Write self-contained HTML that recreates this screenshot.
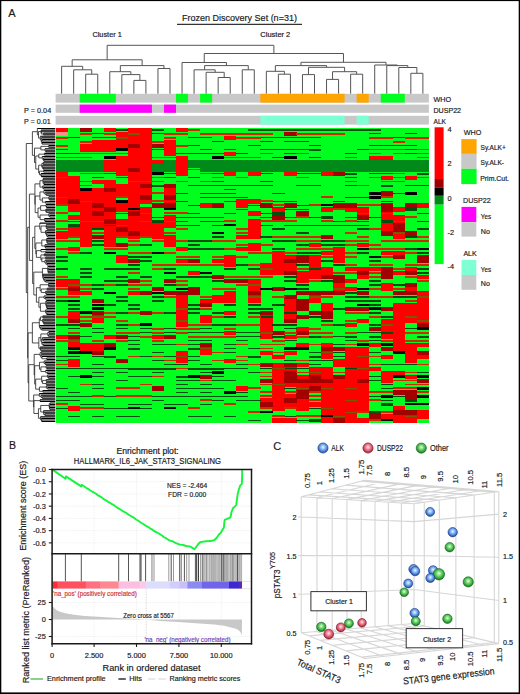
<!DOCTYPE html>
<html><head><meta charset="utf-8"><title>Figure</title>
<style>html,body{margin:0;padding:0;background:#fff;} body{width:520px;height:694px;overflow:hidden;font-family:"Liberation Sans", sans-serif;} svg{display:block;}</style>
</head><body><svg width="520" height="694" viewBox="0 0 520 694" font-family='"Liberation Sans", sans-serif'><rect x="0.00" y="0.00" width="1.30" height="694.00" fill="#000"/>
<rect x="0.00" y="0.00" width="520.00" height="1.10" fill="#000"/>
<rect x="518.70" y="0.00" width="1.30" height="694.00" fill="#000"/>
<rect x="0.00" y="692.40" width="520.00" height="1.60" fill="#000"/>
<text x="8.20" y="16.70" font-size="11" fill="#1a1a1a" stroke="#1a1a1a" stroke-width="0.18">A</text>
<text x="182.10" y="21.40" font-size="9.5" textLength="114.80" lengthAdjust="spacingAndGlyphs" fill="#1a1a1a" stroke="#1a1a1a" stroke-width="0.18">Frozen Discovery Set (n=31)</text>
<line x1="177.00" y1="24.40" x2="302.00" y2="24.40" stroke="#333" stroke-width="1.1"/>
<text x="92.40" y="37.10" font-size="7.3" textLength="29.40" lengthAdjust="spacingAndGlyphs" fill="#1a1a1a" stroke="#1a1a1a" stroke-width="0.18">Cluster 1</text>
<text x="260.30" y="37.10" font-size="7.3" textLength="30.00" lengthAdjust="spacingAndGlyphs" fill="#1a1a1a" stroke="#1a1a1a" stroke-width="0.18">Cluster 2</text>
<path d="M85.70 93.80V74.20M97.75 93.80V74.20M85.70 74.20H97.75M73.66 93.80V69.80M91.73 74.20V69.80M73.66 69.80H91.73M61.62 93.80V66.30M82.69 69.80V66.30M61.62 66.30H82.69M133.87 93.80V80.40M145.91 93.80V80.40M133.87 80.40H145.91M121.83 93.80V74.60M139.89 80.40V74.60M121.83 74.60H139.89M109.79 93.80V71.70M130.86 74.60V71.70M109.79 71.70H130.86M157.96 93.80V68.50M170.00 93.80V68.50M157.96 68.50H170.00M120.33 71.70V65.60M163.98 68.50V65.60M120.33 65.60H163.98M72.16 66.30V59.80M142.15 65.60V59.80M72.16 59.80H142.15M218.17 93.80V77.50M230.21 93.80V77.50M218.17 77.50H230.21M206.12 93.80V72.30M224.19 77.50V72.30M206.12 72.30H224.19M194.08 93.80V69.80M215.16 72.30V69.80M194.08 69.80H215.16M242.25 93.80V69.80M254.29 93.80V69.80M242.25 69.80H254.29M204.62 69.80V65.60M248.27 69.80V65.60M204.62 65.60H248.27M182.04 93.80V62.50M226.44 65.60V62.50M182.04 62.50H226.44M278.38 93.80V74.20M290.42 93.80V74.20M278.38 74.20H290.42M266.33 93.80V71.30M284.40 74.20V71.30M266.33 71.30H284.40M302.46 93.80V74.60M314.50 93.80V74.60M302.46 74.60H314.50M326.54 93.80V79.40M338.59 93.80V79.40M326.54 79.40H338.59M350.63 93.80V74.20M362.67 93.80V74.20M350.63 74.20H362.67M332.56 79.40V71.70M356.65 74.20V71.70M332.56 71.70H356.65M308.48 74.60V67.30M344.61 71.70V67.30M308.48 67.30H344.61M275.37 71.30V65.60M326.54 67.30V65.60M275.37 65.60H326.54M410.84 93.80V73.30M422.88 93.80V73.30M410.84 73.30H422.88M398.80 93.80V67.50M416.86 73.30V67.50M398.80 67.50H416.86M386.75 93.80V65.60M407.83 67.50V65.60M386.75 65.60H407.83M374.71 93.80V65.00M397.29 65.60V65.00M374.71 65.00H397.29M300.95 65.60V62.30M386.00 65.00V62.30M300.95 62.30H386.00M204.24 62.50V53.50M343.48 62.30V53.50M204.24 53.50H343.48M107.15 59.80V45.30M273.86 53.50V45.30M107.15 45.30H273.86" stroke="#555" stroke-width="1" fill="none"/>
<rect x="55.60" y="93.80" width="373.30" height="8.80" fill="#c8c8c8"/>
<rect x="79.68" y="93.80" width="36.13" height="8.80" fill="#00ff1e"/>
<rect x="176.02" y="93.80" width="12.04" height="8.80" fill="#00ff1e"/>
<rect x="200.10" y="93.80" width="12.04" height="8.80" fill="#00ff1e"/>
<rect x="260.31" y="93.80" width="84.29" height="8.80" fill="#ffa500"/>
<rect x="356.65" y="93.80" width="12.04" height="8.80" fill="#ffa500"/>
<rect x="380.73" y="93.80" width="24.08" height="8.80" fill="#00ff1e"/>
<rect x="55.60" y="104.60" width="373.30" height="8.20" fill="#c8c8c8"/>
<rect x="79.68" y="104.60" width="72.25" height="8.20" fill="#ff00ff"/>
<rect x="163.98" y="104.60" width="12.04" height="8.20" fill="#ff00ff"/>
<rect x="55.60" y="115.80" width="373.30" height="8.80" fill="#c8c8c8"/>
<rect x="260.31" y="115.80" width="84.29" height="8.80" fill="#7fffd4"/>
<rect x="356.65" y="115.80" width="12.04" height="8.80" fill="#7fffd4"/>
<text x="433.50" y="101.90" font-size="7.4" textLength="17.70" lengthAdjust="spacingAndGlyphs" fill="#1a1a1a" stroke="#1a1a1a" stroke-width="0.18">WHO</text>
<text x="433.50" y="112.80" font-size="7.4" textLength="27.50" lengthAdjust="spacingAndGlyphs" fill="#1a1a1a" stroke="#1a1a1a" stroke-width="0.18">DUSP22</text>
<text x="433.50" y="123.80" font-size="7.4" textLength="12.50" lengthAdjust="spacingAndGlyphs" fill="#1a1a1a" stroke="#1a1a1a" stroke-width="0.18">ALK</text>
<text x="24.00" y="112.50" font-size="7.7" textLength="27.20" lengthAdjust="spacingAndGlyphs" fill="#1a1a1a" stroke="#1a1a1a" stroke-width="0.18">P = 0.04</text>
<text x="24.00" y="123.90" font-size="7.7" textLength="26.70" lengthAdjust="spacingAndGlyphs" fill="#1a1a1a" stroke="#1a1a1a" stroke-width="0.18">P = 0.01</text>
<g shape-rendering="crispEdges"><path fill="#00ff1e" d="M55.6 135.76h12.29v24.13h-12.29zM55.6 203.41h12.29v28.11h-12.29zM55.6 239.23h12.29v40.05h-12.29zM55.6 286.99h12.29v48.01h-12.29zM55.6 338.73h12.29v83.82h-12.29zM67.6 127.80h12.29v32.09h-12.29zM67.6 171.58h12.29v4.23h-12.29zM67.6 211.37h12.29v4.23h-12.29zM67.6 219.33h12.29v8.21h-12.29zM67.6 235.25h12.29v12.19h-12.29zM67.6 251.17h12.29v28.11h-12.29zM67.6 294.95h12.29v16.17h-12.29zM67.6 322.81h12.29v12.19h-12.29zM67.6 346.69h12.29v12.19h-12.29zM67.6 366.58h12.29v40.05h-12.29zM67.6 410.36h12.29v12.19h-12.29zM79.7 131.78h12.29v12.19h-12.29zM79.7 151.68h12.29v8.21h-12.29zM79.7 171.58h12.29v20.15h-12.29zM79.7 247.19h12.29v44.03h-12.29zM79.7 294.95h12.29v28.11h-12.29zM79.7 326.79h12.29v16.17h-12.29zM79.7 350.66h12.29v71.89h-12.29zM91.7 127.80h12.29v12.19h-12.29zM91.7 151.68h12.29v8.21h-12.29zM91.7 171.58h12.29v8.21h-12.29zM91.7 183.52h12.29v4.23h-12.29zM91.7 227.29h12.29v8.21h-12.29zM91.7 239.23h12.29v59.95h-12.29zM91.7 302.91h12.29v8.21h-12.29zM91.7 322.81h12.29v20.15h-12.29zM91.7 354.64h12.29v67.91h-12.29zM103.8 131.78h12.29v8.21h-12.29zM103.8 151.68h12.29v8.21h-12.29zM103.8 171.58h12.29v8.21h-12.29zM103.8 247.19h12.29v87.80h-12.29zM103.8 338.73h12.29v4.23h-12.29zM103.8 346.69h12.29v75.86h-12.29zM115.8 127.80h12.29v4.23h-12.29zM115.8 147.70h12.29v8.21h-12.29zM115.8 175.56h12.29v8.21h-12.29zM115.8 195.46h12.29v8.21h-12.29zM115.8 211.37h12.29v8.21h-12.29zM115.8 235.25h12.29v8.21h-12.29zM115.8 247.19h12.29v8.21h-12.29zM115.8 263.11h12.29v71.89h-12.29zM115.8 338.73h12.29v20.15h-12.29zM115.8 362.60h12.29v59.95h-12.29zM127.9 239.23h12.29v20.15h-12.29zM127.9 263.11h12.29v16.17h-12.29zM127.9 283.01h12.29v8.21h-12.29zM127.9 294.95h12.29v127.60h-12.29zM139.9 203.41h12.29v4.23h-12.29zM139.9 235.25h12.29v55.97h-12.29zM139.9 294.95h12.29v16.17h-12.29zM139.9 314.85h12.29v107.70h-12.29zM151.9 127.80h12.29v16.17h-12.29zM151.9 147.70h12.29v12.19h-12.29zM151.9 171.58h12.29v32.09h-12.29zM151.9 207.39h12.29v16.17h-12.29zM151.9 239.23h12.29v48.01h-12.29zM151.9 290.97h12.29v44.03h-12.29zM151.9 338.73h12.29v48.01h-12.29zM151.9 390.46h12.29v32.09h-12.29zM164.0 127.80h12.29v12.19h-12.29zM164.0 155.66h12.29v4.23h-12.29zM164.0 171.58h12.29v12.19h-12.29zM164.0 207.39h12.29v8.21h-12.29zM164.0 227.29h12.29v8.21h-12.29zM164.0 247.19h12.29v32.09h-12.29zM164.0 283.01h12.29v8.21h-12.29zM164.0 294.95h12.29v40.05h-12.29zM164.0 338.73h12.29v83.82h-12.29zM176.0 131.78h12.29v24.13h-12.29zM176.0 175.56h12.29v71.89h-12.29zM176.0 251.17h12.29v8.21h-12.29zM176.0 263.11h12.29v28.11h-12.29zM176.0 326.79h12.29v24.13h-12.29zM176.0 362.60h12.29v59.95h-12.29zM188.1 127.80h12.29v32.09h-12.29zM188.1 167.60h12.29v91.78h-12.29zM188.1 263.11h12.29v8.21h-12.29zM188.1 275.05h12.29v12.19h-12.29zM188.1 294.95h12.29v127.60h-12.29zM200.1 127.80h12.29v32.09h-12.29zM200.1 171.58h12.29v32.09h-12.29zM200.1 207.39h12.29v91.78h-12.29zM200.1 306.89h12.29v8.21h-12.29zM200.1 322.81h12.29v20.15h-12.29zM200.1 354.64h12.29v20.15h-12.29zM200.1 378.52h12.29v44.03h-12.29zM212.1 127.80h12.29v32.09h-12.29zM212.1 171.58h12.29v32.09h-12.29zM212.1 207.39h12.29v51.99h-12.29zM212.1 263.11h12.29v12.19h-12.29zM212.1 279.03h12.29v16.17h-12.29zM212.1 302.91h12.29v119.64h-12.29zM224.2 127.80h12.29v8.21h-12.29zM224.2 139.74h12.29v12.19h-12.29zM224.2 155.66h12.29v4.23h-12.29zM224.2 175.56h12.29v79.84h-12.29zM224.2 267.09h12.29v12.19h-12.29zM224.2 283.01h12.29v8.21h-12.29zM224.2 302.91h12.29v8.21h-12.29zM224.2 314.85h12.29v16.17h-12.29zM224.2 334.75h12.29v24.13h-12.29zM224.2 362.60h12.29v59.95h-12.29zM236.2 127.80h12.29v32.09h-12.29zM236.2 171.58h12.29v28.11h-12.29zM236.2 207.39h12.29v28.11h-12.29zM236.2 239.23h12.29v8.21h-12.29zM236.2 251.17h12.29v28.11h-12.29zM236.2 283.01h12.29v103.72h-12.29zM236.2 390.46h12.29v32.09h-12.29zM248.3 127.80h12.29v32.09h-12.29zM248.3 175.56h12.29v24.13h-12.29zM248.3 203.41h12.29v8.21h-12.29zM248.3 215.35h12.29v4.23h-12.29zM248.3 239.23h12.29v4.23h-12.29zM248.3 251.17h12.29v28.11h-12.29zM248.3 302.91h12.29v119.64h-12.29zM260.3 127.80h12.29v32.09h-12.29zM260.3 171.58h12.29v32.09h-12.29zM260.3 207.39h12.29v55.97h-12.29zM260.3 275.05h12.29v36.07h-12.29zM260.3 338.73h12.29v12.19h-12.29zM260.3 354.64h12.29v8.21h-12.29zM260.3 366.58h12.29v12.19h-12.29zM260.3 382.50h12.29v16.17h-12.29zM260.3 406.38h12.29v16.17h-12.29zM272.4 127.80h12.29v32.09h-12.29zM272.4 171.58h12.29v36.07h-12.29zM272.4 219.33h12.29v32.09h-12.29zM272.4 275.05h12.29v12.19h-12.29zM272.4 290.97h12.29v40.05h-12.29zM272.4 334.75h12.29v20.15h-12.29zM272.4 358.62h12.29v4.23h-12.29zM272.4 410.36h12.29v8.21h-12.29zM284.4 127.80h12.29v4.23h-12.29zM284.4 135.76h12.29v24.13h-12.29zM284.4 175.56h12.29v28.11h-12.29zM284.4 207.39h12.29v48.01h-12.29zM284.4 275.05h12.29v20.15h-12.29zM284.4 322.81h12.29v12.19h-12.29zM284.4 338.73h12.29v12.19h-12.29zM284.4 354.64h12.29v8.21h-12.29zM284.4 386.48h12.29v8.21h-12.29zM284.4 406.38h12.29v12.19h-12.29zM296.4 127.80h12.29v32.09h-12.29zM296.4 171.58h12.29v40.05h-12.29zM296.4 215.35h12.29v40.05h-12.29zM296.4 263.11h12.29v8.21h-12.29zM296.4 283.01h12.29v8.21h-12.29zM296.4 294.95h12.29v4.23h-12.29zM296.4 310.87h12.29v4.23h-12.29zM296.4 318.83h12.29v8.21h-12.29zM296.4 334.75h12.29v8.21h-12.29zM296.4 346.69h12.29v16.17h-12.29zM296.4 366.58h12.29v8.21h-12.29zM296.4 410.36h12.29v12.19h-12.29zM308.5 127.80h12.29v32.09h-12.29zM308.5 171.58h12.29v71.89h-12.29zM308.5 247.19h12.29v8.21h-12.29zM308.5 279.03h12.29v12.19h-12.29zM308.5 302.91h12.29v8.21h-12.29zM308.5 314.85h12.29v51.99h-12.29zM308.5 390.46h12.29v12.19h-12.29zM308.5 406.38h12.29v16.17h-12.29zM320.5 127.80h12.29v32.09h-12.29zM320.5 175.56h12.29v32.09h-12.29zM320.5 211.37h12.29v24.13h-12.29zM320.5 239.23h12.29v12.19h-12.29zM320.5 255.15h12.29v12.19h-12.29zM320.5 279.03h12.29v12.19h-12.29zM320.5 294.95h12.29v8.21h-12.29zM320.5 318.83h12.29v24.13h-12.29zM320.5 358.62h12.29v8.21h-12.29zM332.6 127.80h12.29v32.09h-12.29zM332.6 175.56h12.29v28.11h-12.29zM332.6 207.39h12.29v40.05h-12.29zM332.6 263.11h12.29v12.19h-12.29zM332.6 294.95h12.29v51.99h-12.29zM332.6 350.66h12.29v8.21h-12.29zM332.6 366.58h12.29v8.21h-12.29zM344.6 127.80h12.29v32.09h-12.29zM344.6 171.58h12.29v32.09h-12.29zM344.6 211.37h12.29v55.97h-12.29zM344.6 271.07h12.29v8.21h-12.29zM344.6 283.01h12.29v4.23h-12.29zM344.6 290.97h12.29v16.17h-12.29zM344.6 310.87h12.29v12.19h-12.29zM344.6 326.79h12.29v20.15h-12.29zM356.6 127.80h12.29v32.09h-12.29zM356.6 171.58h12.29v36.07h-12.29zM356.6 219.33h12.29v24.13h-12.29zM356.6 247.19h12.29v20.15h-12.29zM356.6 279.03h12.29v12.19h-12.29zM356.6 294.95h12.29v12.19h-12.29zM356.6 310.87h12.29v8.21h-12.29zM356.6 322.81h12.29v24.13h-12.29zM356.6 410.36h12.29v8.21h-12.29zM368.7 127.80h12.29v28.11h-12.29zM368.7 171.58h12.29v95.76h-12.29zM368.7 271.07h12.29v55.97h-12.29zM368.7 330.77h12.29v12.19h-12.29zM368.7 346.69h12.29v20.15h-12.29zM368.7 370.56h12.29v44.03h-12.29zM368.7 418.32h12.29v4.23h-12.29zM380.7 127.80h12.29v28.11h-12.29zM380.7 171.58h12.29v4.23h-12.29zM380.7 179.54h12.29v12.19h-12.29zM380.7 195.46h12.29v8.21h-12.29zM380.7 235.25h12.29v16.17h-12.29zM380.7 255.15h12.29v12.19h-12.29zM380.7 279.03h12.29v4.23h-12.29zM380.7 290.97h12.29v16.17h-12.29zM380.7 310.87h12.29v8.21h-12.29zM380.7 338.73h12.29v8.21h-12.29zM380.7 350.66h12.29v4.23h-12.29zM380.7 358.62h12.29v12.19h-12.29zM380.7 382.50h12.29v32.09h-12.29zM380.7 418.32h12.29v4.23h-12.29zM392.8 127.80h12.29v32.09h-12.29zM392.8 171.58h12.29v36.07h-12.29zM392.8 211.37h12.29v4.23h-12.29zM392.8 239.23h12.29v12.19h-12.29zM392.8 259.13h12.29v12.19h-12.29zM392.8 275.05h12.29v16.17h-12.29zM392.8 294.95h12.29v8.21h-12.29zM392.8 350.66h12.29v20.15h-12.29zM392.8 374.54h12.29v16.17h-12.29zM392.8 394.44h12.29v12.19h-12.29zM404.8 127.80h12.29v32.09h-12.29zM404.8 171.58h12.29v4.23h-12.29zM404.8 179.54h12.29v24.13h-12.29zM404.8 207.39h12.29v24.13h-12.29zM404.8 235.25h12.29v32.09h-12.29zM404.8 275.05h12.29v8.21h-12.29zM404.8 294.95h12.29v8.21h-12.29zM404.8 322.81h12.29v20.15h-12.29zM404.8 362.60h12.29v12.19h-12.29zM404.8 378.52h12.29v12.19h-12.29zM404.8 398.42h12.29v12.19h-12.29zM416.9 127.80h12.29v32.09h-12.29zM416.9 171.58h12.29v32.09h-12.29zM416.9 207.39h12.29v48.01h-12.29zM416.9 263.11h12.29v12.19h-12.29zM416.9 279.03h12.29v12.19h-12.29zM416.9 326.79h12.29v16.17h-12.29zM416.9 346.69h12.29v4.23h-12.29zM416.9 358.62h12.29v20.15h-12.29zM416.9 382.50h12.29v28.11h-12.29zM416.9 418.32h12.29v4.23h-12.29z"/><path fill="#ff0000" d="M55.6 127.80h12.29v4.23h-12.29zM55.6 171.58h12.29v32.09h-12.29zM55.6 231.27h12.29v8.21h-12.29zM55.6 279.03h12.29v8.21h-12.29zM55.6 334.75h12.29v4.23h-12.29zM67.6 175.56h12.29v24.13h-12.29zM67.6 203.41h12.29v8.21h-12.29zM67.6 215.35h12.29v4.23h-12.29zM67.6 227.29h12.29v8.21h-12.29zM67.6 247.19h12.29v4.23h-12.29zM67.6 279.03h12.29v8.21h-12.29zM67.6 290.97h12.29v4.23h-12.29zM67.6 310.87h12.29v8.21h-12.29zM67.6 338.73h12.29v8.21h-12.29zM67.6 358.62h12.29v8.21h-12.29zM67.6 406.38h12.29v4.23h-12.29zM79.7 143.72h12.29v8.21h-12.29zM79.7 191.48h12.29v55.97h-12.29zM79.7 290.97h12.29v4.23h-12.29zM79.7 342.71h12.29v8.21h-12.29zM91.7 139.74h12.29v12.19h-12.29zM91.7 179.54h12.29v4.23h-12.29zM91.7 187.50h12.29v16.17h-12.29zM91.7 207.39h12.29v4.23h-12.29zM91.7 215.35h12.29v12.19h-12.29zM91.7 314.85h12.29v8.21h-12.29zM91.7 342.71h12.29v8.21h-12.29zM103.8 127.80h12.29v4.23h-12.29zM103.8 139.74h12.29v12.19h-12.29zM103.8 159.64h12.29v12.19h-12.29zM103.8 179.54h12.29v8.21h-12.29zM103.8 191.48h12.29v16.17h-12.29zM103.8 211.37h12.29v8.21h-12.29zM103.8 223.31h12.29v24.13h-12.29zM103.8 334.75h12.29v4.23h-12.29zM115.8 131.78h12.29v16.17h-12.29zM115.8 155.66h12.29v20.15h-12.29zM115.8 183.52h12.29v12.19h-12.29zM115.8 203.41h12.29v8.21h-12.29zM115.8 219.33h12.29v8.21h-12.29zM115.8 231.27h12.29v4.23h-12.29zM115.8 255.15h12.29v8.21h-12.29zM127.9 127.80h12.29v16.17h-12.29zM127.9 147.70h12.29v20.15h-12.29zM127.9 171.58h12.29v40.05h-12.29zM127.9 215.35h12.29v16.17h-12.29zM127.9 235.25h12.29v4.23h-12.29zM127.9 290.97h12.29v4.23h-12.29zM139.9 127.80h12.29v55.97h-12.29zM139.9 187.50h12.29v8.21h-12.29zM139.9 199.44h12.29v4.23h-12.29zM139.9 207.39h12.29v28.11h-12.29zM151.9 159.64h12.29v4.23h-12.29zM151.9 223.31h12.29v16.17h-12.29zM151.9 334.75h12.29v4.23h-12.29zM164.0 139.74h12.29v16.17h-12.29zM164.0 187.50h12.29v8.21h-12.29zM164.0 199.44h12.29v4.23h-12.29zM164.0 215.35h12.29v12.19h-12.29zM164.0 235.25h12.29v12.19h-12.29zM176.0 127.80h12.29v4.23h-12.29zM176.0 155.66h12.29v20.15h-12.29zM176.0 247.19h12.29v4.23h-12.29zM176.0 259.13h12.29v4.23h-12.29zM176.0 294.95h12.29v32.09h-12.29zM176.0 350.66h12.29v12.19h-12.29zM188.1 271.07h12.29v4.23h-12.29zM200.1 203.41h12.29v4.23h-12.29zM200.1 298.93h12.29v4.23h-12.29zM200.1 314.85h12.29v8.21h-12.29zM200.1 346.69h12.29v8.21h-12.29zM212.1 259.13h12.29v4.23h-12.29zM212.1 294.95h12.29v8.21h-12.29zM224.2 135.76h12.29v4.23h-12.29zM224.2 151.68h12.29v4.23h-12.29zM224.2 171.58h12.29v4.23h-12.29zM224.2 255.15h12.29v12.19h-12.29zM224.2 290.97h12.29v12.19h-12.29zM224.2 310.87h12.29v4.23h-12.29zM224.2 330.77h12.29v4.23h-12.29zM224.2 358.62h12.29v4.23h-12.29zM236.2 199.44h12.29v8.21h-12.29zM236.2 235.25h12.29v4.23h-12.29zM236.2 247.19h12.29v4.23h-12.29zM236.2 386.48h12.29v4.23h-12.29zM248.3 171.58h12.29v4.23h-12.29zM248.3 199.44h12.29v4.23h-12.29zM248.3 211.37h12.29v4.23h-12.29zM248.3 219.33h12.29v20.15h-12.29zM248.3 243.21h12.29v8.21h-12.29zM248.3 279.03h12.29v12.19h-12.29zM248.3 294.95h12.29v8.21h-12.29zM260.3 263.11h12.29v12.19h-12.29zM260.3 314.85h12.29v24.13h-12.29zM260.3 350.66h12.29v4.23h-12.29zM260.3 398.42h12.29v4.23h-12.29zM272.4 207.39h12.29v8.21h-12.29zM272.4 251.17h12.29v24.13h-12.29zM272.4 354.64h12.29v4.23h-12.29zM272.4 362.60h12.29v48.01h-12.29zM272.4 418.32h12.29v4.23h-12.29zM284.4 171.58h12.29v4.23h-12.29zM284.4 255.15h12.29v4.23h-12.29zM284.4 263.11h12.29v8.21h-12.29zM284.4 298.93h12.29v20.15h-12.29zM284.4 334.75h12.29v4.23h-12.29zM284.4 350.66h12.29v4.23h-12.29zM284.4 366.58h12.29v4.23h-12.29zM284.4 382.50h12.29v4.23h-12.29zM284.4 394.44h12.29v4.23h-12.29zM284.4 402.40h12.29v4.23h-12.29zM284.4 418.32h12.29v4.23h-12.29zM296.4 271.07h12.29v12.19h-12.29zM296.4 326.79h12.29v4.23h-12.29zM296.4 342.71h12.29v4.23h-12.29zM296.4 362.60h12.29v4.23h-12.29zM296.4 374.54h12.29v4.23h-12.29zM296.4 382.50h12.29v8.21h-12.29zM296.4 398.42h12.29v12.19h-12.29zM308.5 243.21h12.29v4.23h-12.29zM308.5 255.15h12.29v24.13h-12.29zM308.5 294.95h12.29v8.21h-12.29zM308.5 366.58h12.29v8.21h-12.29zM308.5 382.50h12.29v4.23h-12.29zM308.5 402.40h12.29v4.23h-12.29zM320.5 171.58h12.29v4.23h-12.29zM320.5 207.39h12.29v4.23h-12.29zM320.5 251.17h12.29v4.23h-12.29zM320.5 267.09h12.29v8.21h-12.29zM320.5 302.91h12.29v8.21h-12.29zM320.5 342.71h12.29v4.23h-12.29zM320.5 350.66h12.29v8.21h-12.29zM320.5 366.58h12.29v12.19h-12.29zM320.5 382.50h12.29v40.05h-12.29zM332.6 247.19h12.29v16.17h-12.29zM332.6 283.01h12.29v8.21h-12.29zM332.6 358.62h12.29v8.21h-12.29zM332.6 378.52h12.29v40.05h-12.29zM344.6 207.39h12.29v4.23h-12.29zM344.6 267.09h12.29v4.23h-12.29zM344.6 279.03h12.29v4.23h-12.29zM344.6 286.99h12.29v4.23h-12.29zM344.6 322.81h12.29v4.23h-12.29zM344.6 346.69h12.29v75.86h-12.29zM356.6 207.39h12.29v8.21h-12.29zM356.6 243.21h12.29v4.23h-12.29zM356.6 267.09h12.29v4.23h-12.29zM356.6 275.05h12.29v4.23h-12.29zM356.6 318.83h12.29v4.23h-12.29zM356.6 346.69h12.29v32.09h-12.29zM356.6 382.50h12.29v28.11h-12.29zM356.6 418.32h12.29v4.23h-12.29zM368.7 155.66h12.29v4.23h-12.29zM368.7 267.09h12.29v4.23h-12.29zM368.7 342.71h12.29v4.23h-12.29zM368.7 366.58h12.29v4.23h-12.29zM380.7 155.66h12.29v4.23h-12.29zM380.7 175.56h12.29v4.23h-12.29zM380.7 211.37h12.29v20.15h-12.29zM380.7 251.17h12.29v4.23h-12.29zM380.7 283.01h12.29v8.21h-12.29zM380.7 318.83h12.29v20.15h-12.29zM380.7 354.64h12.29v4.23h-12.29zM380.7 370.56h12.29v12.19h-12.29zM380.7 414.34h12.29v4.23h-12.29zM392.8 207.39h12.29v4.23h-12.29zM392.8 215.35h12.29v8.21h-12.29zM392.8 231.27h12.29v8.21h-12.29zM392.8 251.17h12.29v4.23h-12.29zM392.8 271.07h12.29v4.23h-12.29zM392.8 302.91h12.29v48.01h-12.29zM392.8 370.56h12.29v4.23h-12.29zM392.8 406.38h12.29v4.23h-12.29zM392.8 414.34h12.29v8.21h-12.29zM404.8 175.56h12.29v4.23h-12.29zM404.8 267.09h12.29v4.23h-12.29zM404.8 286.99h12.29v4.23h-12.29zM404.8 302.91h12.29v20.15h-12.29zM404.8 342.71h12.29v20.15h-12.29zM404.8 374.54h12.29v4.23h-12.29zM404.8 414.34h12.29v8.21h-12.29zM416.9 203.41h12.29v4.23h-12.29zM416.9 275.05h12.29v4.23h-12.29zM416.9 290.97h12.29v32.09h-12.29zM416.9 342.71h12.29v4.23h-12.29zM416.9 354.64h12.29v4.23h-12.29zM416.9 410.36h12.29v8.21h-12.29z"/><path fill="#a30000" d="M67.6 199.44h12.29v4.23h-12.29zM67.6 286.99h12.29v4.23h-12.29zM67.6 318.83h12.29v4.23h-12.29zM67.6 334.75h12.29v4.23h-12.29zM79.7 127.80h12.29v4.23h-12.29zM79.7 322.81h12.29v4.23h-12.29zM91.7 203.41h12.29v4.23h-12.29zM91.7 211.37h12.29v4.23h-12.29zM91.7 235.25h12.29v4.23h-12.29zM91.7 298.93h12.29v4.23h-12.29zM91.7 310.87h12.29v4.23h-12.29zM91.7 350.66h12.29v4.23h-12.29zM103.8 187.50h12.29v4.23h-12.29zM103.8 207.39h12.29v4.23h-12.29zM103.8 219.33h12.29v4.23h-12.29zM103.8 342.71h12.29v4.23h-12.29zM115.8 227.29h12.29v4.23h-12.29zM115.8 243.21h12.29v4.23h-12.29zM115.8 334.75h12.29v4.23h-12.29zM115.8 358.62h12.29v4.23h-12.29zM127.9 143.72h12.29v4.23h-12.29zM127.9 167.60h12.29v4.23h-12.29zM127.9 211.37h12.29v4.23h-12.29zM127.9 231.27h12.29v4.23h-12.29zM127.9 259.13h12.29v4.23h-12.29zM127.9 279.03h12.29v4.23h-12.29zM139.9 183.52h12.29v4.23h-12.29zM139.9 195.46h12.29v4.23h-12.29zM139.9 290.97h12.29v4.23h-12.29zM139.9 310.87h12.29v4.23h-12.29zM151.9 143.72h12.29v4.23h-12.29zM151.9 203.41h12.29v4.23h-12.29zM151.9 286.99h12.29v4.23h-12.29zM151.9 386.48h12.29v4.23h-12.29zM164.0 183.52h12.29v4.23h-12.29zM164.0 195.46h12.29v4.23h-12.29zM164.0 203.41h12.29v4.23h-12.29zM164.0 279.03h12.29v4.23h-12.29zM164.0 290.97h12.29v4.23h-12.29zM164.0 334.75h12.29v4.23h-12.29zM176.0 290.97h12.29v4.23h-12.29zM188.1 259.13h12.29v4.23h-12.29zM188.1 286.99h12.29v8.21h-12.29zM200.1 302.91h12.29v4.23h-12.29zM200.1 342.71h12.29v4.23h-12.29zM200.1 374.54h12.29v4.23h-12.29zM212.1 203.41h12.29v4.23h-12.29zM212.1 275.05h12.29v4.23h-12.29zM224.2 279.03h12.29v4.23h-12.29zM236.2 279.03h12.29v4.23h-12.29zM248.3 290.97h12.29v4.23h-12.29zM260.3 203.41h12.29v4.23h-12.29zM260.3 310.87h12.29v4.23h-12.29zM260.3 362.60h12.29v4.23h-12.29zM260.3 378.52h12.29v4.23h-12.29zM260.3 402.40h12.29v4.23h-12.29zM272.4 215.35h12.29v4.23h-12.29zM272.4 286.99h12.29v4.23h-12.29zM272.4 330.77h12.29v4.23h-12.29zM284.4 131.78h12.29v4.23h-12.29zM284.4 203.41h12.29v4.23h-12.29zM284.4 259.13h12.29v4.23h-12.29zM284.4 271.07h12.29v4.23h-12.29zM284.4 294.95h12.29v4.23h-12.29zM284.4 318.83h12.29v4.23h-12.29zM284.4 362.60h12.29v4.23h-12.29zM284.4 370.56h12.29v12.19h-12.29zM284.4 398.42h12.29v4.23h-12.29zM296.4 211.37h12.29v4.23h-12.29zM296.4 255.15h12.29v8.21h-12.29zM296.4 290.97h12.29v4.23h-12.29zM296.4 298.93h12.29v12.19h-12.29zM296.4 314.85h12.29v4.23h-12.29zM296.4 330.77h12.29v4.23h-12.29zM296.4 378.52h12.29v4.23h-12.29zM296.4 390.46h12.29v8.21h-12.29zM308.5 290.97h12.29v4.23h-12.29zM308.5 310.87h12.29v4.23h-12.29zM308.5 374.54h12.29v8.21h-12.29zM308.5 386.48h12.29v4.23h-12.29zM320.5 235.25h12.29v4.23h-12.29zM320.5 275.05h12.29v4.23h-12.29zM320.5 290.97h12.29v4.23h-12.29zM320.5 310.87h12.29v8.21h-12.29zM320.5 346.69h12.29v4.23h-12.29zM320.5 378.52h12.29v4.23h-12.29zM332.6 171.58h12.29v4.23h-12.29zM332.6 203.41h12.29v4.23h-12.29zM332.6 275.05h12.29v8.21h-12.29zM332.6 290.97h12.29v4.23h-12.29zM332.6 346.69h12.29v4.23h-12.29zM332.6 374.54h12.29v4.23h-12.29zM332.6 418.32h12.29v4.23h-12.29zM344.6 203.41h12.29v4.23h-12.29zM344.6 306.89h12.29v4.23h-12.29zM356.6 215.35h12.29v4.23h-12.29zM356.6 271.07h12.29v4.23h-12.29zM356.6 290.97h12.29v4.23h-12.29zM356.6 306.89h12.29v4.23h-12.29zM356.6 378.52h12.29v4.23h-12.29zM368.7 326.79h12.29v4.23h-12.29zM368.7 414.34h12.29v4.23h-12.29zM380.7 191.48h12.29v4.23h-12.29zM380.7 203.41h12.29v8.21h-12.29zM380.7 231.27h12.29v4.23h-12.29zM380.7 267.09h12.29v12.19h-12.29zM380.7 306.89h12.29v4.23h-12.29zM380.7 346.69h12.29v4.23h-12.29zM392.8 223.31h12.29v8.21h-12.29zM392.8 255.15h12.29v4.23h-12.29zM392.8 290.97h12.29v4.23h-12.29zM392.8 390.46h12.29v4.23h-12.29zM392.8 410.36h12.29v4.23h-12.29zM404.8 203.41h12.29v4.23h-12.29zM404.8 231.27h12.29v4.23h-12.29zM404.8 271.07h12.29v4.23h-12.29zM404.8 283.01h12.29v4.23h-12.29zM404.8 290.97h12.29v4.23h-12.29zM404.8 390.46h12.29v8.21h-12.29zM404.8 410.36h12.29v4.23h-12.29zM416.9 255.15h12.29v8.21h-12.29zM416.9 322.81h12.29v4.23h-12.29zM416.9 350.66h12.29v4.23h-12.29zM416.9 378.52h12.29v4.23h-12.29z"/><path fill="#ff8c8c" d="M55.6 131.78h12.29v4.23h-12.29z"/><path fill="#008a19" d="M55.6 159.64h12.29v12.19h-12.29zM67.6 159.64h12.29v12.19h-12.29zM79.7 159.64h12.29v12.19h-12.29zM91.7 159.64h12.29v12.19h-12.29zM151.9 163.62h12.29v8.21h-12.29zM164.0 159.64h12.29v12.19h-12.29zM188.1 159.64h12.29v8.21h-12.29zM200.1 159.64h12.29v12.19h-12.29zM212.1 159.64h12.29v12.19h-12.29zM224.2 159.64h12.29v12.19h-12.29zM236.2 159.64h12.29v12.19h-12.29zM248.3 159.64h12.29v12.19h-12.29zM260.3 159.64h12.29v12.19h-12.29zM272.4 159.64h12.29v12.19h-12.29zM284.4 159.64h12.29v12.19h-12.29zM296.4 159.64h12.29v12.19h-12.29zM308.5 159.64h12.29v12.19h-12.29zM320.5 159.64h12.29v12.19h-12.29zM332.6 159.64h12.29v12.19h-12.29zM344.6 159.64h12.29v12.19h-12.29zM356.6 159.64h12.29v12.19h-12.29zM368.7 159.64h12.29v12.19h-12.29zM380.7 159.64h12.29v12.19h-12.29zM392.8 159.64h12.29v12.19h-12.29zM404.8 159.64h12.29v12.19h-12.29zM416.9 159.64h12.29v12.19h-12.29z"/><path fill="#00500c" d="M67.6 224.31h12.29v2.19h-12.29zM91.7 240.23h12.29v2.19h-12.29zM91.7 244.21h12.29v2.19h-12.29zM103.8 355.64h12.29v2.19h-12.29zM115.8 280.02h12.29v2.19h-12.29zM115.8 284.00h12.29v2.19h-12.29zM127.9 347.68h12.29v2.19h-12.29zM127.9 367.58h12.29v2.19h-12.29zM139.9 367.58h12.29v2.19h-12.29zM151.9 184.51h12.29v2.19h-12.29zM151.9 220.33h12.29v2.19h-12.29zM151.9 367.58h12.29v2.19h-12.29zM164.0 268.09h12.29v2.19h-12.29zM164.0 367.58h12.29v2.19h-12.29zM176.0 375.54h12.29v2.19h-12.29zM188.1 347.68h12.29v2.19h-12.29zM188.1 367.58h12.29v2.19h-12.29zM200.1 276.04h12.29v2.19h-12.29zM200.1 367.58h12.29v2.19h-12.29zM212.1 323.80h12.29v2.19h-12.29zM212.1 367.58h12.29v2.19h-12.29zM248.3 303.90h12.29v2.19h-12.29zM248.3 307.88h12.29v2.19h-12.29zM248.3 355.64h12.29v2.19h-12.29zM272.4 212.37h12.29v2.19h-12.29zM272.4 335.74h12.29v2.19h-12.29zM284.4 276.04h12.29v2.19h-12.29zM296.4 244.21h12.29v2.19h-12.29zM308.5 148.69h12.29v2.19h-12.29zM308.5 268.09h12.29v2.19h-12.29zM308.5 335.74h12.29v2.19h-12.29zM308.5 355.64h12.29v2.19h-12.29zM308.5 419.32h12.29v2.19h-12.29zM320.5 216.35h12.29v2.19h-12.29zM320.5 244.21h12.29v2.19h-12.29zM332.6 323.80h12.29v2.19h-12.29zM344.6 172.57h12.29v2.19h-12.29zM344.6 291.96h12.29v2.19h-12.29zM344.6 295.94h12.29v2.19h-12.29zM344.6 335.74h12.29v2.19h-12.29zM356.6 299.92h12.29v2.19h-12.29zM368.7 323.80h12.29v2.19h-12.29zM368.7 335.74h12.29v2.19h-12.29zM368.7 411.36h12.29v2.19h-12.29zM380.7 184.51h12.29v2.19h-12.29zM380.7 220.33h12.29v2.19h-12.29zM380.7 331.76h12.29v2.19h-12.29zM380.7 403.40h12.29v2.19h-12.29zM404.8 208.39h12.29v2.19h-12.29zM404.8 295.94h12.29v2.19h-12.29zM404.8 399.42h12.29v2.19h-12.29zM416.9 172.57h12.29v2.19h-12.29zM416.9 335.74h12.29v2.19h-12.29z"/><path fill="#004a0c" d="M55.6 148.89h12.29v1.51h-12.29zM55.6 152.87h12.29v1.51h-12.29zM55.6 256.35h12.29v1.51h-12.29zM55.6 260.33h12.29v1.51h-12.29zM55.6 268.28h12.29v1.51h-12.29zM55.6 300.12h12.29v1.51h-12.29zM55.6 324.00h12.29v1.51h-12.29zM55.6 355.84h12.29v1.51h-12.29zM55.6 359.82h12.29v1.51h-12.29zM55.6 367.78h12.29v1.51h-12.29zM55.6 387.68h12.29v1.51h-12.29zM55.6 395.64h12.29v1.51h-12.29zM55.6 399.62h12.29v1.51h-12.29zM55.6 407.58h12.29v1.51h-12.29zM67.6 136.95h12.29v1.51h-12.29zM67.6 152.87h12.29v1.51h-12.29zM67.6 220.53h12.29v1.51h-12.29zM67.6 304.10h12.29v1.51h-12.29zM67.6 308.08h12.29v1.51h-12.29zM67.6 324.00h12.29v1.51h-12.29zM67.6 327.98h12.29v1.51h-12.29zM67.6 355.84h12.29v1.51h-12.29zM67.6 367.78h12.29v1.51h-12.29zM67.6 375.74h12.29v1.51h-12.29zM67.6 391.66h12.29v1.51h-12.29zM67.6 395.64h12.29v1.51h-12.29zM67.6 399.62h12.29v1.51h-12.29zM67.6 415.53h12.29v1.51h-12.29zM79.7 252.37h12.29v1.51h-12.29zM79.7 268.28h12.29v1.51h-12.29zM79.7 272.26h12.29v1.51h-12.29zM79.7 276.24h12.29v1.51h-12.29zM79.7 335.94h12.29v1.51h-12.29zM79.7 367.78h12.29v1.51h-12.29zM79.7 395.64h12.29v1.51h-12.29zM79.7 403.60h12.29v1.51h-12.29zM91.7 132.97h12.29v1.51h-12.29zM91.7 136.95h12.29v1.51h-12.29zM91.7 176.75h12.29v1.51h-12.29zM91.7 228.49h12.29v1.51h-12.29zM91.7 284.20h12.29v1.51h-12.29zM91.7 288.18h12.29v1.51h-12.29zM91.7 327.98h12.29v1.51h-12.29zM91.7 331.96h12.29v1.51h-12.29zM91.7 355.84h12.29v1.51h-12.29zM91.7 363.80h12.29v1.51h-12.29zM91.7 367.78h12.29v1.51h-12.29zM91.7 371.76h12.29v1.51h-12.29zM91.7 375.74h12.29v1.51h-12.29zM91.7 383.70h12.29v1.51h-12.29zM91.7 387.68h12.29v1.51h-12.29zM91.7 403.60h12.29v1.51h-12.29zM91.7 415.53h12.29v1.51h-12.29zM103.8 136.95h12.29v1.51h-12.29zM103.8 172.77h12.29v1.51h-12.29zM103.8 224.51h12.29v1.51h-12.29zM103.8 268.28h12.29v1.51h-12.29zM103.8 280.22h12.29v1.51h-12.29zM103.8 304.10h12.29v1.51h-12.29zM103.8 367.78h12.29v1.51h-12.29zM103.8 395.64h12.29v1.51h-12.29zM103.8 407.58h12.29v1.51h-12.29zM115.8 128.99h12.29v1.51h-12.29zM115.8 176.75h12.29v1.51h-12.29zM115.8 212.57h12.29v1.51h-12.29zM115.8 268.28h12.29v1.51h-12.29zM115.8 276.24h12.29v1.51h-12.29zM115.8 296.14h12.29v1.51h-12.29zM115.8 300.12h12.29v1.51h-12.29zM115.8 312.06h12.29v1.51h-12.29zM115.8 324.00h12.29v1.51h-12.29zM115.8 327.98h12.29v1.51h-12.29zM115.8 367.78h12.29v1.51h-12.29zM115.8 371.76h12.29v1.51h-12.29zM115.8 379.72h12.29v1.51h-12.29zM115.8 407.58h12.29v1.51h-12.29zM115.8 415.53h12.29v1.51h-12.29zM127.9 256.35h12.29v1.51h-12.29zM127.9 264.30h12.29v1.51h-12.29zM127.9 268.28h12.29v1.51h-12.29zM127.9 304.10h12.29v1.51h-12.29zM127.9 308.08h12.29v1.51h-12.29zM127.9 335.94h12.29v1.51h-12.29zM127.9 339.92h12.29v1.51h-12.29zM127.9 343.90h12.29v1.51h-12.29zM127.9 375.74h12.29v1.51h-12.29zM127.9 403.60h12.29v1.51h-12.29zM127.9 415.53h12.29v1.51h-12.29zM139.9 244.41h12.29v1.51h-12.29zM139.9 256.35h12.29v1.51h-12.29zM139.9 260.33h12.29v1.51h-12.29zM139.9 276.24h12.29v1.51h-12.29zM139.9 327.98h12.29v1.51h-12.29zM139.9 331.96h12.29v1.51h-12.29zM139.9 355.84h12.29v1.51h-12.29zM139.9 375.74h12.29v1.51h-12.29zM139.9 403.60h12.29v1.51h-12.29zM139.9 407.58h12.29v1.51h-12.29zM151.9 128.99h12.29v1.51h-12.29zM151.9 132.97h12.29v1.51h-12.29zM151.9 148.89h12.29v1.51h-12.29zM151.9 216.55h12.29v1.51h-12.29zM151.9 296.14h12.29v1.51h-12.29zM151.9 300.12h12.29v1.51h-12.29zM151.9 343.90h12.29v1.51h-12.29zM151.9 351.86h12.29v1.51h-12.29zM151.9 359.82h12.29v1.51h-12.29zM151.9 371.76h12.29v1.51h-12.29zM151.9 395.64h12.29v1.51h-12.29zM151.9 399.62h12.29v1.51h-12.29zM164.0 172.77h12.29v1.51h-12.29zM164.0 176.75h12.29v1.51h-12.29zM164.0 284.20h12.29v1.51h-12.29zM164.0 312.06h12.29v1.51h-12.29zM164.0 327.98h12.29v1.51h-12.29zM164.0 331.96h12.29v1.51h-12.29zM164.0 343.90h12.29v1.51h-12.29zM164.0 355.84h12.29v1.51h-12.29zM164.0 363.80h12.29v1.51h-12.29zM164.0 395.64h12.29v1.51h-12.29zM164.0 403.60h12.29v1.51h-12.29zM176.0 152.87h12.29v1.51h-12.29zM176.0 192.67h12.29v1.51h-12.29zM176.0 200.63h12.29v1.51h-12.29zM176.0 216.55h12.29v1.51h-12.29zM176.0 220.53h12.29v1.51h-12.29zM176.0 224.51h12.29v1.51h-12.29zM176.0 276.24h12.29v1.51h-12.29zM176.0 363.80h12.29v1.51h-12.29zM176.0 379.72h12.29v1.51h-12.29zM176.0 383.70h12.29v1.51h-12.29zM176.0 387.68h12.29v1.51h-12.29zM176.0 391.66h12.29v1.51h-12.29zM176.0 395.64h12.29v1.51h-12.29zM176.0 403.60h12.29v1.51h-12.29zM188.1 136.95h12.29v1.51h-12.29zM188.1 144.91h12.29v1.51h-12.29zM188.1 152.87h12.29v1.51h-12.29zM188.1 176.75h12.29v1.51h-12.29zM188.1 184.71h12.29v1.51h-12.29zM188.1 204.61h12.29v1.51h-12.29zM188.1 212.57h12.29v1.51h-12.29zM188.1 216.55h12.29v1.51h-12.29zM188.1 224.51h12.29v1.51h-12.29zM188.1 240.43h12.29v1.51h-12.29zM188.1 244.41h12.29v1.51h-12.29zM188.1 248.39h12.29v1.51h-12.29zM188.1 276.24h12.29v1.51h-12.29zM188.1 304.10h12.29v1.51h-12.29zM188.1 308.08h12.29v1.51h-12.29zM188.1 312.06h12.29v1.51h-12.29zM188.1 331.96h12.29v1.51h-12.29zM188.1 339.92h12.29v1.51h-12.29zM188.1 343.90h12.29v1.51h-12.29zM188.1 355.84h12.29v1.51h-12.29zM188.1 359.82h12.29v1.51h-12.29zM188.1 379.72h12.29v1.51h-12.29zM188.1 387.68h12.29v1.51h-12.29zM188.1 395.64h12.29v1.51h-12.29zM188.1 415.53h12.29v1.51h-12.29zM200.1 136.95h12.29v1.51h-12.29zM200.1 148.89h12.29v1.51h-12.29zM200.1 152.87h12.29v1.51h-12.29zM200.1 184.71h12.29v1.51h-12.29zM200.1 192.67h12.29v1.51h-12.29zM200.1 196.65h12.29v1.51h-12.29zM200.1 216.55h12.29v1.51h-12.29zM200.1 220.53h12.29v1.51h-12.29zM200.1 240.43h12.29v1.51h-12.29zM200.1 248.39h12.29v1.51h-12.29zM200.1 327.98h12.29v1.51h-12.29zM200.1 331.96h12.29v1.51h-12.29zM200.1 339.92h12.29v1.51h-12.29zM200.1 363.80h12.29v1.51h-12.29zM200.1 371.76h12.29v1.51h-12.29zM200.1 383.70h12.29v1.51h-12.29zM200.1 387.68h12.29v1.51h-12.29zM200.1 391.66h12.29v1.51h-12.29zM200.1 395.64h12.29v1.51h-12.29zM200.1 403.60h12.29v1.51h-12.29zM200.1 415.53h12.29v1.51h-12.29zM212.1 140.93h12.29v1.51h-12.29zM212.1 152.87h12.29v1.51h-12.29zM212.1 172.77h12.29v1.51h-12.29zM212.1 180.73h12.29v1.51h-12.29zM212.1 184.71h12.29v1.51h-12.29zM212.1 192.67h12.29v1.51h-12.29zM212.1 196.65h12.29v1.51h-12.29zM212.1 216.55h12.29v1.51h-12.29zM212.1 220.53h12.29v1.51h-12.29zM212.1 224.51h12.29v1.51h-12.29zM212.1 236.45h12.29v1.51h-12.29zM212.1 248.39h12.29v1.51h-12.29zM212.1 280.22h12.29v1.51h-12.29zM212.1 312.06h12.29v1.51h-12.29zM212.1 331.96h12.29v1.51h-12.29zM212.1 375.74h12.29v1.51h-12.29zM212.1 379.72h12.29v1.51h-12.29zM212.1 387.68h12.29v1.51h-12.29zM212.1 395.64h12.29v1.51h-12.29zM212.1 399.62h12.29v1.51h-12.29zM224.2 148.89h12.29v1.51h-12.29zM224.2 184.71h12.29v1.51h-12.29zM224.2 188.69h12.29v1.51h-12.29zM224.2 192.67h12.29v1.51h-12.29zM224.2 196.65h12.29v1.51h-12.29zM224.2 200.63h12.29v1.51h-12.29zM224.2 212.57h12.29v1.51h-12.29zM224.2 268.28h12.29v1.51h-12.29zM224.2 304.10h12.29v1.51h-12.29zM224.2 316.04h12.29v1.51h-12.29zM224.2 324.00h12.29v1.51h-12.29zM224.2 343.90h12.29v1.51h-12.29zM224.2 347.88h12.29v1.51h-12.29zM224.2 351.86h12.29v1.51h-12.29zM224.2 367.78h12.29v1.51h-12.29zM224.2 379.72h12.29v1.51h-12.29zM224.2 395.64h12.29v1.51h-12.29zM224.2 415.53h12.29v1.51h-12.29zM236.2 152.87h12.29v1.51h-12.29zM236.2 184.71h12.29v1.51h-12.29zM236.2 196.65h12.29v1.51h-12.29zM236.2 208.59h12.29v1.51h-12.29zM236.2 264.30h12.29v1.51h-12.29zM236.2 331.96h12.29v1.51h-12.29zM236.2 335.94h12.29v1.51h-12.29zM236.2 339.92h12.29v1.51h-12.29zM236.2 363.80h12.29v1.51h-12.29zM236.2 367.78h12.29v1.51h-12.29zM236.2 391.66h12.29v1.51h-12.29zM236.2 395.64h12.29v1.51h-12.29zM236.2 399.62h12.29v1.51h-12.29zM248.3 128.99h12.29v1.51h-12.29zM248.3 144.91h12.29v1.51h-12.29zM248.3 184.71h12.29v1.51h-12.29zM248.3 204.61h12.29v1.51h-12.29zM248.3 268.28h12.29v1.51h-12.29zM248.3 312.06h12.29v1.51h-12.29zM248.3 331.96h12.29v1.51h-12.29zM248.3 335.94h12.29v1.51h-12.29zM248.3 347.88h12.29v1.51h-12.29zM248.3 371.76h12.29v1.51h-12.29zM248.3 399.62h12.29v1.51h-12.29zM248.3 419.51h12.29v1.51h-12.29zM260.3 128.99h12.29v1.51h-12.29zM260.3 136.95h12.29v1.51h-12.29zM260.3 140.93h12.29v1.51h-12.29zM260.3 148.89h12.29v1.51h-12.29zM260.3 172.77h12.29v1.51h-12.29zM260.3 180.73h12.29v1.51h-12.29zM260.3 184.71h12.29v1.51h-12.29zM260.3 212.57h12.29v1.51h-12.29zM260.3 216.55h12.29v1.51h-12.29zM260.3 224.51h12.29v1.51h-12.29zM260.3 236.45h12.29v1.51h-12.29zM260.3 308.08h12.29v1.51h-12.29zM260.3 316.04h12.29v1.51h-12.29zM260.3 367.78h12.29v1.51h-12.29zM272.4 128.99h12.29v1.51h-12.29zM272.4 136.95h12.29v1.51h-12.29zM272.4 148.89h12.29v1.51h-12.29zM272.4 156.85h12.29v1.51h-12.29zM272.4 192.67h12.29v1.51h-12.29zM272.4 200.63h12.29v1.51h-12.29zM272.4 228.49h12.29v1.51h-12.29zM272.4 240.43h12.29v1.51h-12.29zM272.4 248.39h12.29v1.51h-12.29zM272.4 304.10h12.29v1.51h-12.29zM272.4 324.00h12.29v1.51h-12.29zM284.4 128.99h12.29v1.51h-12.29zM284.4 136.95h12.29v1.51h-12.29zM284.4 140.93h12.29v1.51h-12.29zM284.4 148.89h12.29v1.51h-12.29zM284.4 152.87h12.29v1.51h-12.29zM284.4 200.63h12.29v1.51h-12.29zM284.4 208.59h12.29v1.51h-12.29zM284.4 216.55h12.29v1.51h-12.29zM284.4 224.51h12.29v1.51h-12.29zM284.4 240.43h12.29v1.51h-12.29zM284.4 280.22h12.29v1.51h-12.29zM284.4 312.06h12.29v1.51h-12.29zM284.4 324.00h12.29v1.51h-12.29zM284.4 327.98h12.29v1.51h-12.29zM284.4 339.92h12.29v1.51h-12.29zM284.4 359.82h12.29v1.51h-12.29zM284.4 367.78h12.29v1.51h-12.29zM284.4 387.68h12.29v1.51h-12.29zM284.4 415.53h12.29v1.51h-12.29zM296.4 128.99h12.29v1.51h-12.29zM296.4 136.95h12.29v1.51h-12.29zM296.4 140.93h12.29v1.51h-12.29zM296.4 148.89h12.29v1.51h-12.29zM296.4 172.77h12.29v1.51h-12.29zM296.4 184.71h12.29v1.51h-12.29zM296.4 204.61h12.29v1.51h-12.29zM296.4 208.59h12.29v1.51h-12.29zM296.4 224.51h12.29v1.51h-12.29zM296.4 232.47h12.29v1.51h-12.29zM296.4 252.37h12.29v1.51h-12.29zM296.4 264.30h12.29v1.51h-12.29zM296.4 284.20h12.29v1.51h-12.29zM296.4 288.18h12.29v1.51h-12.29zM296.4 367.78h12.29v1.51h-12.29zM296.4 419.51h12.29v1.51h-12.29zM308.5 128.99h12.29v1.51h-12.29zM308.5 136.95h12.29v1.51h-12.29zM308.5 144.91h12.29v1.51h-12.29zM308.5 156.85h12.29v1.51h-12.29zM308.5 172.77h12.29v1.51h-12.29zM308.5 184.71h12.29v1.51h-12.29zM308.5 216.55h12.29v1.51h-12.29zM308.5 224.51h12.29v1.51h-12.29zM308.5 252.37h12.29v1.51h-12.29zM308.5 316.04h12.29v1.51h-12.29zM308.5 351.86h12.29v1.51h-12.29zM308.5 359.82h12.29v1.51h-12.29zM308.5 363.80h12.29v1.51h-12.29zM308.5 407.58h12.29v1.51h-12.29zM320.5 128.99h12.29v1.51h-12.29zM320.5 224.51h12.29v1.51h-12.29zM320.5 240.43h12.29v1.51h-12.29zM320.5 260.33h12.29v1.51h-12.29zM320.5 280.22h12.29v1.51h-12.29zM320.5 320.02h12.29v1.51h-12.29zM320.5 359.82h12.29v1.51h-12.29zM332.6 128.99h12.29v1.51h-12.29zM332.6 200.63h12.29v1.51h-12.29zM332.6 220.53h12.29v1.51h-12.29zM332.6 224.51h12.29v1.51h-12.29zM332.6 240.43h12.29v1.51h-12.29zM332.6 244.41h12.29v1.51h-12.29zM332.6 264.30h12.29v1.51h-12.29zM332.6 308.08h12.29v1.51h-12.29zM332.6 335.94h12.29v1.51h-12.29zM332.6 343.90h12.29v1.51h-12.29zM332.6 351.86h12.29v1.51h-12.29zM332.6 355.84h12.29v1.51h-12.29zM344.6 128.99h12.29v1.51h-12.29zM344.6 152.87h12.29v1.51h-12.29zM344.6 176.75h12.29v1.51h-12.29zM344.6 184.71h12.29v1.51h-12.29zM344.6 196.65h12.29v1.51h-12.29zM344.6 216.55h12.29v1.51h-12.29zM344.6 224.51h12.29v1.51h-12.29zM344.6 300.12h12.29v1.51h-12.29zM344.6 339.92h12.29v1.51h-12.29zM344.6 367.78h12.29v1.51h-12.29zM356.6 128.99h12.29v1.51h-12.29zM356.6 148.89h12.29v1.51h-12.29zM356.6 196.65h12.29v1.51h-12.29zM356.6 220.53h12.29v1.51h-12.29zM356.6 224.51h12.29v1.51h-12.29zM356.6 228.49h12.29v1.51h-12.29zM356.6 252.37h12.29v1.51h-12.29zM356.6 296.14h12.29v1.51h-12.29zM356.6 331.96h12.29v1.51h-12.29zM368.7 128.99h12.29v1.51h-12.29zM368.7 132.97h12.29v1.51h-12.29zM368.7 144.91h12.29v1.51h-12.29zM368.7 172.77h12.29v1.51h-12.29zM368.7 216.55h12.29v1.51h-12.29zM368.7 260.33h12.29v1.51h-12.29zM368.7 280.22h12.29v1.51h-12.29zM368.7 284.20h12.29v1.51h-12.29zM368.7 300.12h12.29v1.51h-12.29zM368.7 304.10h12.29v1.51h-12.29zM368.7 312.06h12.29v1.51h-12.29zM368.7 331.96h12.29v1.51h-12.29zM368.7 339.92h12.29v1.51h-12.29zM368.7 351.86h12.29v1.51h-12.29zM368.7 375.74h12.29v1.51h-12.29zM368.7 379.72h12.29v1.51h-12.29zM368.7 395.64h12.29v1.51h-12.29zM380.7 144.91h12.29v1.51h-12.29zM380.7 172.77h12.29v1.51h-12.29zM380.7 200.63h12.29v1.51h-12.29zM380.7 316.04h12.29v1.51h-12.29zM380.7 363.80h12.29v1.51h-12.29zM380.7 383.70h12.29v1.51h-12.29zM380.7 387.68h12.29v1.51h-12.29zM380.7 399.62h12.29v1.51h-12.29zM392.8 136.95h12.29v1.51h-12.29zM392.8 144.91h12.29v1.51h-12.29zM392.8 192.67h12.29v1.51h-12.29zM392.8 284.20h12.29v1.51h-12.29zM392.8 296.14h12.29v1.51h-12.29zM392.8 363.80h12.29v1.51h-12.29zM392.8 395.64h12.29v1.51h-12.29zM404.8 132.97h12.29v1.51h-12.29zM404.8 144.91h12.29v1.51h-12.29zM404.8 148.89h12.29v1.51h-12.29zM404.8 152.87h12.29v1.51h-12.29zM404.8 184.71h12.29v1.51h-12.29zM404.8 236.45h12.29v1.51h-12.29zM404.8 248.39h12.29v1.51h-12.29zM404.8 327.98h12.29v1.51h-12.29zM404.8 363.80h12.29v1.51h-12.29zM416.9 184.71h12.29v1.51h-12.29zM416.9 212.57h12.29v1.51h-12.29zM416.9 220.53h12.29v1.51h-12.29zM416.9 228.49h12.29v1.51h-12.29zM416.9 252.37h12.29v1.51h-12.29zM416.9 268.28h12.29v1.51h-12.29zM416.9 272.26h12.29v1.51h-12.29zM416.9 371.76h12.29v1.51h-12.29z"/><path fill="#7a5a00" d="M55.6 176.75h12.29v1.59h-12.29zM55.6 196.65h12.29v1.59h-12.29zM67.6 284.20h12.29v1.59h-12.29zM67.6 339.92h12.29v1.59h-12.29zM79.7 200.63h12.29v1.59h-12.29zM79.7 220.53h12.29v1.59h-12.29zM91.7 220.53h12.29v1.59h-12.29zM91.7 316.04h12.29v1.59h-12.29zM115.8 136.95h12.29v1.59h-12.29zM115.8 224.51h12.29v1.59h-12.29zM127.9 132.97h12.29v1.59h-12.29zM127.9 180.73h12.29v1.59h-12.29zM139.9 180.73h12.29v1.59h-12.29zM139.9 212.57h12.29v1.59h-12.29zM139.9 220.53h12.29v1.59h-12.29zM164.0 200.63h12.29v1.59h-12.29zM164.0 220.53h12.29v1.59h-12.29zM176.0 308.08h12.29v1.59h-12.29zM176.0 320.02h12.29v1.59h-12.29zM176.0 355.84h12.29v1.59h-12.29zM200.1 347.88h12.29v1.59h-12.29zM248.3 284.20h12.29v1.59h-12.29zM248.3 296.14h12.29v1.59h-12.29zM260.3 268.28h12.29v1.59h-12.29zM260.3 331.96h12.29v1.59h-12.29zM272.4 367.78h12.29v1.59h-12.29zM272.4 383.70h12.29v1.59h-12.29zM296.4 387.68h12.29v1.59h-12.29zM308.5 296.14h12.29v1.59h-12.29zM308.5 371.76h12.29v1.59h-12.29zM320.5 351.86h12.29v1.59h-12.29zM320.5 387.68h12.29v1.59h-12.29zM320.5 407.58h12.29v1.59h-12.29zM332.6 288.18h12.29v1.59h-12.29zM332.6 415.53h12.29v1.59h-12.29zM344.6 387.68h12.29v1.59h-12.29zM344.6 399.62h12.29v1.59h-12.29zM344.6 411.55h12.29v1.59h-12.29zM356.6 212.57h12.29v1.59h-12.29zM356.6 355.84h12.29v1.59h-12.29zM356.6 367.78h12.29v1.59h-12.29zM380.7 212.57h12.29v1.59h-12.29zM380.7 324.00h12.29v1.59h-12.29zM392.8 220.53h12.29v1.59h-12.29zM392.8 232.47h12.29v1.59h-12.29zM404.8 316.04h12.29v1.59h-12.29zM404.8 415.53h12.29v1.59h-12.29zM416.9 296.14h12.29v1.59h-12.29zM416.9 320.02h12.29v1.59h-12.29z"/><path fill="#d22800" d="M55.6 136.75h12.29v1.79h-12.29zM55.6 144.71h12.29v1.79h-12.29zM55.6 156.65h12.29v1.79h-12.29zM55.6 204.41h12.29v1.79h-12.29zM55.6 212.37h12.29v1.79h-12.29zM55.6 220.33h12.29v1.79h-12.29zM55.6 228.29h12.29v1.79h-12.29zM55.6 240.23h12.29v1.79h-12.29zM55.6 248.19h12.29v1.79h-12.29zM55.6 276.04h12.29v1.79h-12.29zM55.6 287.98h12.29v1.79h-12.29zM55.6 295.94h12.29v1.79h-12.29zM55.6 315.84h12.29v1.79h-12.29zM55.6 339.72h12.29v1.79h-12.29zM55.6 363.60h12.29v1.79h-12.29zM55.6 403.40h12.29v1.79h-12.29zM67.6 156.65h12.29v1.79h-12.29zM67.6 236.25h12.29v1.79h-12.29zM67.6 240.23h12.29v1.79h-12.29zM67.6 252.17h12.29v1.79h-12.29zM67.6 295.94h12.29v1.79h-12.29zM67.6 331.76h12.29v1.79h-12.29zM79.7 132.77h12.29v1.79h-12.29zM79.7 140.73h12.29v1.79h-12.29zM79.7 152.67h12.29v1.79h-12.29zM79.7 156.65h12.29v1.79h-12.29zM79.7 172.57h12.29v1.79h-12.29zM79.7 180.53h12.29v1.79h-12.29zM79.7 184.51h12.29v1.79h-12.29zM79.7 284.00h12.29v1.79h-12.29zM79.7 287.98h12.29v1.79h-12.29zM79.7 315.84h12.29v1.79h-12.29zM79.7 319.82h12.29v1.79h-12.29zM79.7 383.50h12.29v1.79h-12.29zM79.7 407.38h12.29v1.79h-12.29zM91.7 152.67h12.29v1.79h-12.29zM91.7 172.57h12.29v1.79h-12.29zM91.7 232.27h12.29v1.79h-12.29zM91.7 339.72h12.29v1.79h-12.29zM91.7 395.44h12.29v1.79h-12.29zM91.7 407.38h12.29v1.79h-12.29zM103.8 132.77h12.29v1.79h-12.29zM103.8 152.67h12.29v1.79h-12.29zM103.8 248.19h12.29v1.79h-12.29zM103.8 284.00h12.29v1.79h-12.29zM103.8 311.86h12.29v1.79h-12.29zM103.8 315.84h12.29v1.79h-12.29zM115.8 152.67h12.29v1.79h-12.29zM115.8 196.45h12.29v1.79h-12.29zM115.8 236.25h12.29v1.79h-12.29zM115.8 248.19h12.29v1.79h-12.29zM115.8 319.82h12.29v1.79h-12.29zM115.8 331.76h12.29v1.79h-12.29zM115.8 339.72h12.29v1.79h-12.29zM115.8 387.48h12.29v1.79h-12.29zM115.8 395.44h12.29v1.79h-12.29zM127.9 240.23h12.29v1.79h-12.29zM127.9 244.21h12.29v1.79h-12.29zM127.9 252.17h12.29v1.79h-12.29zM127.9 272.07h12.29v1.79h-12.29zM127.9 284.00h12.29v1.79h-12.29zM127.9 287.98h12.29v1.79h-12.29zM127.9 311.86h12.29v1.79h-12.29zM127.9 323.80h12.29v1.79h-12.29zM127.9 331.76h12.29v1.79h-12.29zM127.9 355.64h12.29v1.79h-12.29zM127.9 387.48h12.29v1.79h-12.29zM127.9 395.44h12.29v1.79h-12.29zM139.9 236.25h12.29v1.79h-12.29zM139.9 252.17h12.29v1.79h-12.29zM139.9 280.02h12.29v1.79h-12.29zM139.9 284.00h12.29v1.79h-12.29zM139.9 335.74h12.29v1.79h-12.29zM139.9 383.50h12.29v1.79h-12.29zM139.9 395.44h12.29v1.79h-12.29zM151.9 140.73h12.29v1.79h-12.29zM151.9 156.65h12.29v1.79h-12.29zM151.9 176.55h12.29v1.79h-12.29zM151.9 180.53h12.29v1.79h-12.29zM151.9 192.47h12.29v1.79h-12.29zM151.9 200.43h12.29v1.79h-12.29zM151.9 240.23h12.29v1.79h-12.29zM151.9 264.11h12.29v1.79h-12.29zM151.9 268.09h12.29v1.79h-12.29zM151.9 311.86h12.29v1.79h-12.29zM151.9 327.78h12.29v1.79h-12.29zM151.9 331.76h12.29v1.79h-12.29zM151.9 339.72h12.29v1.79h-12.29zM151.9 355.64h12.29v1.79h-12.29zM151.9 375.54h12.29v1.79h-12.29zM164.0 132.77h12.29v1.79h-12.29zM164.0 136.75h12.29v1.79h-12.29zM164.0 156.65h12.29v1.79h-12.29zM164.0 212.37h12.29v1.79h-12.29zM164.0 232.27h12.29v1.79h-12.29zM164.0 252.17h12.29v1.79h-12.29zM164.0 264.11h12.29v1.79h-12.29zM164.0 295.94h12.29v1.79h-12.29zM164.0 359.62h12.29v1.79h-12.29zM176.0 132.77h12.29v1.79h-12.29zM176.0 144.71h12.29v1.79h-12.29zM176.0 180.53h12.29v1.79h-12.29zM176.0 212.37h12.29v1.79h-12.29zM176.0 228.29h12.29v1.79h-12.29zM176.0 240.23h12.29v1.79h-12.29zM176.0 256.15h12.29v1.79h-12.29zM176.0 264.11h12.29v1.79h-12.29zM176.0 280.02h12.29v1.79h-12.29zM176.0 284.00h12.29v1.79h-12.29zM176.0 327.78h12.29v1.79h-12.29zM176.0 331.76h12.29v1.79h-12.29zM176.0 343.70h12.29v1.79h-12.29zM176.0 367.58h12.29v1.79h-12.29zM188.1 128.79h12.29v1.79h-12.29zM188.1 168.59h12.29v1.79h-12.29zM188.1 256.15h12.29v1.79h-12.29zM188.1 264.11h12.29v1.79h-12.29zM188.1 323.80h12.29v1.79h-12.29zM188.1 327.78h12.29v1.79h-12.29zM188.1 335.74h12.29v1.79h-12.29zM188.1 407.38h12.29v1.79h-12.29zM200.1 132.77h12.29v1.79h-12.29zM200.1 172.57h12.29v1.79h-12.29zM200.1 180.53h12.29v1.79h-12.29zM200.1 264.11h12.29v1.79h-12.29zM200.1 295.94h12.29v1.79h-12.29zM200.1 307.88h12.29v1.79h-12.29zM200.1 323.80h12.29v1.79h-12.29zM200.1 335.74h12.29v1.79h-12.29zM200.1 379.52h12.29v1.79h-12.29zM200.1 399.42h12.29v1.79h-12.29zM212.1 132.77h12.29v1.79h-12.29zM212.1 176.55h12.29v1.79h-12.29zM212.1 240.23h12.29v1.79h-12.29zM212.1 256.15h12.29v1.79h-12.29zM212.1 264.11h12.29v1.79h-12.29zM212.1 287.98h12.29v1.79h-12.29zM212.1 315.84h12.29v1.79h-12.29zM212.1 335.74h12.29v1.79h-12.29zM212.1 351.66h12.29v1.79h-12.29zM212.1 359.62h12.29v1.79h-12.29zM224.2 132.77h12.29v1.79h-12.29zM224.2 156.65h12.29v1.79h-12.29zM224.2 220.33h12.29v1.79h-12.29zM224.2 240.23h12.29v1.79h-12.29zM224.2 248.19h12.29v1.79h-12.29zM224.2 276.04h12.29v1.79h-12.29zM224.2 287.98h12.29v1.79h-12.29zM224.2 327.78h12.29v1.79h-12.29zM224.2 335.74h12.29v1.79h-12.29zM224.2 403.40h12.29v1.79h-12.29zM236.2 132.77h12.29v1.79h-12.29zM236.2 136.75h12.29v1.79h-12.29zM236.2 156.65h12.29v1.79h-12.29zM236.2 176.55h12.29v1.79h-12.29zM236.2 228.29h12.29v1.79h-12.29zM236.2 232.27h12.29v1.79h-12.29zM236.2 244.21h12.29v1.79h-12.29zM236.2 256.15h12.29v1.79h-12.29zM236.2 276.04h12.29v1.79h-12.29zM236.2 284.00h12.29v1.79h-12.29zM236.2 323.80h12.29v1.79h-12.29zM236.2 343.70h12.29v1.79h-12.29zM236.2 355.64h12.29v1.79h-12.29zM236.2 359.62h12.29v1.79h-12.29zM248.3 132.77h12.29v1.79h-12.29zM248.3 136.75h12.29v1.79h-12.29zM248.3 156.65h12.29v1.79h-12.29zM248.3 252.17h12.29v1.79h-12.29zM248.3 264.11h12.29v1.79h-12.29zM248.3 276.04h12.29v1.79h-12.29zM248.3 315.84h12.29v1.79h-12.29zM248.3 323.80h12.29v1.79h-12.29zM248.3 363.60h12.29v1.79h-12.29zM248.3 387.48h12.29v1.79h-12.29zM248.3 411.36h12.29v1.79h-12.29zM260.3 132.77h12.29v1.79h-12.29zM260.3 152.67h12.29v1.79h-12.29zM260.3 200.43h12.29v1.79h-12.29zM260.3 220.33h12.29v1.79h-12.29zM260.3 244.21h12.29v1.79h-12.29zM260.3 252.17h12.29v1.79h-12.29zM260.3 276.04h12.29v1.79h-12.29zM260.3 343.70h12.29v1.79h-12.29zM260.3 347.68h12.29v1.79h-12.29zM260.3 371.56h12.29v1.79h-12.29zM260.3 375.54h12.29v1.79h-12.29zM260.3 383.50h12.29v1.79h-12.29zM260.3 391.46h12.29v1.79h-12.29zM260.3 395.44h12.29v1.79h-12.29zM260.3 407.38h12.29v1.79h-12.29zM272.4 204.41h12.29v1.79h-12.29zM272.4 220.33h12.29v1.79h-12.29zM272.4 236.25h12.29v1.79h-12.29zM272.4 295.94h12.29v1.79h-12.29zM272.4 339.72h12.29v1.79h-12.29zM272.4 343.70h12.29v1.79h-12.29zM272.4 351.66h12.29v1.79h-12.29zM272.4 415.34h12.29v1.79h-12.29zM284.4 220.33h12.29v1.79h-12.29zM284.4 236.25h12.29v1.79h-12.29zM284.4 252.17h12.29v1.79h-12.29zM284.4 331.76h12.29v1.79h-12.29zM284.4 391.46h12.29v1.79h-12.29zM284.4 407.38h12.29v1.79h-12.29zM296.4 132.77h12.29v1.79h-12.29zM296.4 152.67h12.29v1.79h-12.29zM296.4 176.55h12.29v1.79h-12.29zM296.4 216.35h12.29v1.79h-12.29zM296.4 236.25h12.29v1.79h-12.29zM296.4 240.23h12.29v1.79h-12.29zM296.4 248.19h12.29v1.79h-12.29zM296.4 268.09h12.29v1.79h-12.29zM296.4 335.74h12.29v1.79h-12.29zM296.4 359.62h12.29v1.79h-12.29zM296.4 371.56h12.29v1.79h-12.29zM296.4 415.34h12.29v1.79h-12.29zM308.5 132.77h12.29v1.79h-12.29zM308.5 204.41h12.29v1.79h-12.29zM308.5 236.25h12.29v1.79h-12.29zM308.5 240.23h12.29v1.79h-12.29zM308.5 248.19h12.29v1.79h-12.29zM308.5 280.02h12.29v1.79h-12.29zM308.5 327.78h12.29v1.79h-12.29zM308.5 331.76h12.29v1.79h-12.29zM308.5 343.70h12.29v1.79h-12.29zM308.5 391.46h12.29v1.79h-12.29zM308.5 395.44h12.29v1.79h-12.29zM308.5 399.42h12.29v1.79h-12.29zM308.5 415.34h12.29v1.79h-12.29zM320.5 132.77h12.29v1.79h-12.29zM320.5 196.45h12.29v1.79h-12.29zM320.5 220.33h12.29v1.79h-12.29zM320.5 248.19h12.29v1.79h-12.29zM320.5 256.15h12.29v1.79h-12.29zM320.5 295.94h12.29v1.79h-12.29zM320.5 323.80h12.29v1.79h-12.29zM320.5 331.76h12.29v1.79h-12.29zM320.5 335.74h12.29v1.79h-12.29zM332.6 132.77h12.29v1.79h-12.29zM332.6 208.39h12.29v1.79h-12.29zM332.6 272.07h12.29v1.79h-12.29zM332.6 371.56h12.29v1.79h-12.29zM344.6 156.65h12.29v1.79h-12.29zM344.6 180.53h12.29v1.79h-12.29zM344.6 220.33h12.29v1.79h-12.29zM344.6 232.27h12.29v1.79h-12.29zM344.6 240.23h12.29v1.79h-12.29zM344.6 244.21h12.29v1.79h-12.29zM344.6 252.17h12.29v1.79h-12.29zM344.6 256.15h12.29v1.79h-12.29zM344.6 264.11h12.29v1.79h-12.29zM344.6 272.07h12.29v1.79h-12.29zM344.6 311.86h12.29v1.79h-12.29zM344.6 319.82h12.29v1.79h-12.29zM344.6 331.76h12.29v1.79h-12.29zM344.6 343.70h12.29v1.79h-12.29zM356.6 184.51h12.29v1.79h-12.29zM356.6 204.41h12.29v1.79h-12.29zM356.6 236.25h12.29v1.79h-12.29zM356.6 240.23h12.29v1.79h-12.29zM356.6 311.86h12.29v1.79h-12.29zM356.6 339.72h12.29v1.79h-12.29zM356.6 411.36h12.29v1.79h-12.29zM368.7 136.75h12.29v1.79h-12.29zM368.7 148.69h12.29v1.79h-12.29zM368.7 152.67h12.29v1.79h-12.29zM368.7 176.55h12.29v1.79h-12.29zM368.7 204.41h12.29v1.79h-12.29zM368.7 228.29h12.29v1.79h-12.29zM368.7 244.21h12.29v1.79h-12.29zM368.7 248.19h12.29v1.79h-12.29zM368.7 264.11h12.29v1.79h-12.29zM368.7 272.07h12.29v1.79h-12.29zM368.7 276.04h12.29v1.79h-12.29zM368.7 287.98h12.29v1.79h-12.29zM368.7 295.94h12.29v1.79h-12.29zM368.7 315.84h12.29v1.79h-12.29zM368.7 355.64h12.29v1.79h-12.29zM368.7 363.60h12.29v1.79h-12.29zM368.7 391.46h12.29v1.79h-12.29zM368.7 399.42h12.29v1.79h-12.29zM368.7 419.32h12.29v1.79h-12.29zM380.7 136.75h12.29v1.79h-12.29zM380.7 148.69h12.29v1.79h-12.29zM380.7 180.53h12.29v1.79h-12.29zM380.7 196.45h12.29v1.79h-12.29zM380.7 240.23h12.29v1.79h-12.29zM380.7 248.19h12.29v1.79h-12.29zM380.7 256.15h12.29v1.79h-12.29zM380.7 264.11h12.29v1.79h-12.29zM380.7 295.94h12.29v1.79h-12.29zM380.7 339.72h12.29v1.79h-12.29zM380.7 391.46h12.29v1.79h-12.29zM380.7 411.36h12.29v1.79h-12.29zM392.8 140.73h12.29v1.79h-12.29zM392.8 148.69h12.29v1.79h-12.29zM392.8 152.67h12.29v1.79h-12.29zM392.8 172.57h12.29v1.79h-12.29zM392.8 176.55h12.29v1.79h-12.29zM392.8 180.53h12.29v1.79h-12.29zM392.8 240.23h12.29v1.79h-12.29zM392.8 248.19h12.29v1.79h-12.29zM392.8 268.09h12.29v1.79h-12.29zM392.8 287.98h12.29v1.79h-12.29zM392.8 379.52h12.29v1.79h-12.29zM392.8 387.48h12.29v1.79h-12.29zM404.8 136.75h12.29v1.79h-12.29zM404.8 216.35h12.29v1.79h-12.29zM404.8 240.23h12.29v1.79h-12.29zM404.8 252.17h12.29v1.79h-12.29zM404.8 264.11h12.29v1.79h-12.29zM404.8 276.04h12.29v1.79h-12.29zM404.8 299.92h12.29v1.79h-12.29zM404.8 331.76h12.29v1.79h-12.29zM404.8 339.72h12.29v1.79h-12.29zM404.8 371.56h12.29v1.79h-12.29zM404.8 379.52h12.29v1.79h-12.29zM404.8 383.50h12.29v1.79h-12.29zM404.8 387.48h12.29v1.79h-12.29zM416.9 136.75h12.29v1.79h-12.29zM416.9 148.69h12.29v1.79h-12.29zM416.9 152.67h12.29v1.79h-12.29zM416.9 156.65h12.29v1.79h-12.29zM416.9 176.55h12.29v1.79h-12.29zM416.9 236.25h12.29v1.79h-12.29zM416.9 240.23h12.29v1.79h-12.29zM416.9 264.11h12.29v1.79h-12.29zM416.9 280.02h12.29v1.79h-12.29zM416.9 331.76h12.29v1.79h-12.29zM416.9 339.72h12.29v1.79h-12.29zM416.9 363.60h12.29v1.79h-12.29zM416.9 383.50h12.29v1.79h-12.29zM416.9 391.46h12.29v1.79h-12.29z"/><path fill="#000000" d="M67.6 299.53h12.29v2.47h-12.29zM67.6 347.28h12.29v2.47h-12.29zM67.6 351.26h12.29v2.47h-12.29zM79.7 188.09h12.29v2.47h-12.29zM79.7 311.46h12.29v2.47h-12.29zM79.7 351.26h12.29v2.47h-12.29zM79.7 375.14h12.29v2.47h-12.29zM91.7 303.51h12.29v2.47h-12.29zM91.7 307.48h12.29v2.47h-12.29zM103.8 156.26h12.29v2.47h-12.29zM103.8 251.77h12.29v2.47h-12.29zM103.8 291.57h12.29v2.47h-12.29zM103.8 347.28h12.29v2.47h-12.29zM115.8 148.30h12.29v2.47h-12.29zM115.8 200.03h12.29v2.47h-12.29zM127.9 207.99h12.29v2.47h-12.29zM127.9 406.98h12.29v2.47h-12.29zM139.9 323.40h12.29v2.47h-12.29zM151.9 172.17h12.29v2.47h-12.29zM151.9 251.77h12.29v2.47h-12.29zM151.9 291.57h12.29v2.47h-12.29zM164.0 207.99h12.29v2.47h-12.29zM164.0 271.67h12.29v2.47h-12.29zM164.0 406.98h12.29v2.47h-12.29zM176.0 287.59h12.29v2.47h-12.29zM188.1 375.14h12.29v2.47h-12.29zM200.1 271.67h12.29v2.47h-12.29zM212.1 156.26h12.29v2.47h-12.29zM212.1 231.87h12.29v2.47h-12.29zM212.1 371.16h12.29v2.47h-12.29zM224.2 223.91h12.29v2.47h-12.29zM224.2 391.06h12.29v2.47h-12.29zM260.3 287.59h12.29v2.47h-12.29zM260.3 410.96h12.29v2.47h-12.29zM284.4 156.26h12.29v2.47h-12.29zM284.4 287.59h12.29v2.47h-12.29zM284.4 347.28h12.29v2.47h-12.29zM296.4 347.28h12.29v2.47h-12.29zM320.5 204.01h12.29v2.47h-12.29zM320.5 414.94h12.29v2.47h-12.29zM356.6 247.79h12.29v2.47h-12.29zM356.6 287.59h12.29v2.47h-12.29zM356.6 303.51h12.29v2.47h-12.29zM356.6 343.30h12.29v2.47h-12.29zM368.7 192.07h12.29v2.47h-12.29zM368.7 196.05h12.29v2.47h-12.29zM368.7 255.75h12.29v2.47h-12.29zM368.7 307.48h12.29v2.47h-12.29zM380.7 343.30h12.29v2.47h-12.29zM380.7 395.04h12.29v2.47h-12.29zM380.7 418.92h12.29v2.47h-12.29zM392.8 351.26h12.29v2.47h-12.29zM392.8 375.14h12.29v2.47h-12.29zM404.8 192.07h12.29v2.47h-12.29zM404.8 403.00h12.29v2.47h-12.29zM416.9 247.79h12.29v2.47h-12.29zM416.9 327.38h12.29v2.47h-12.29zM416.9 375.14h12.29v2.47h-12.29zM416.9 387.08h12.29v2.47h-12.29zM416.9 395.04h12.29v2.47h-12.29zM416.9 403.00h12.29v2.47h-12.29z"/></g>
<path d="M43.44 133.22L43.44 134.78M43.44 134.00L41.30 134.00M41.30 131.68L41.30 134.00M41.30 132.84L41.12 132.84M41.12 130.12L41.12 132.84M42.22 139.43L42.22 140.97M42.08 142.53L42.08 144.08M42.22 140.20L41.79 140.20M42.08 143.30L41.79 143.30M41.79 140.20L41.79 143.30M41.79 141.75L41.24 141.75M41.24 137.88L41.24 141.75M41.24 139.81L40.30 139.81M40.30 136.33L40.30 139.81M41.12 131.48L38.52 131.48M40.30 138.07L38.52 138.07M38.52 131.48L38.52 138.07M38.52 134.78L37.35 134.78M37.35 128.57L37.35 134.78M48.63 145.62L48.63 147.18M45.74 150.28L45.74 151.83M45.74 151.05L44.99 151.05M44.99 148.72L44.99 151.05M48.63 146.40L40.85 146.40M44.99 149.89L40.85 149.89M40.85 146.40L40.85 149.89M44.39 153.38L44.39 154.93M43.82 159.58L43.82 161.12M43.82 160.35L43.46 160.35M43.46 158.03L43.46 160.35M43.46 159.19L42.26 159.19M42.26 156.47L42.26 159.19M44.39 154.15L38.77 154.15M42.26 157.83L38.77 157.83M38.77 154.15L38.77 157.83M42.99 162.67L42.99 164.22M42.98 167.33L42.98 168.88M42.98 168.10L42.28 168.10M42.28 165.78L42.28 168.10M42.99 163.45L41.85 163.45M42.28 166.94L41.85 166.94M41.85 163.45L41.85 166.94M43.61 170.42L43.61 171.97M41.28 175.08L41.28 176.62M41.28 175.85L41.01 175.85M41.01 173.53L41.01 175.85M43.61 171.20L39.46 171.20M41.01 174.69L39.46 174.69M39.46 171.20L39.46 174.69M41.85 165.19L38.65 165.19M39.46 172.94L38.65 172.94M38.65 165.19L38.65 172.94M38.77 155.99L35.75 155.99M38.65 169.07L35.75 169.07M35.75 155.99L35.75 169.07M40.85 148.14L34.51 148.14M35.75 162.53L34.51 162.53M34.51 148.14L34.51 162.53M37.35 131.68L32.38 131.68M34.51 155.34L32.38 155.34M32.38 131.68L32.38 155.34M43.38 178.17L43.38 179.72M43.91 182.83L43.91 184.38M43.91 183.60L43.22 183.60M43.22 181.28L43.22 183.60M43.38 178.95L42.96 178.95M43.22 182.44L42.96 182.44M42.96 178.95L42.96 182.44M43.57 187.47L43.57 189.03M43.57 188.25L42.68 188.25M42.68 185.92L42.68 188.25M42.96 180.69L39.92 180.69M42.68 187.09L39.92 187.09M39.92 180.69L39.92 187.09M46.30 193.67L46.30 195.22M46.30 194.45L45.07 194.45M45.07 192.12L45.07 194.45M45.07 193.29L43.86 193.29M43.86 190.58L43.86 193.29M49.43 198.33L49.43 199.88M49.43 199.10L48.78 199.10M48.78 196.78L48.78 199.10M45.46 201.42L45.46 202.97M48.78 197.94L42.35 197.94M45.46 202.20L42.35 202.20M42.35 197.94L42.35 202.20M43.86 191.93L39.95 191.93M42.35 200.07L39.95 200.07M39.95 191.93L39.95 200.07M46.49 206.08L46.49 207.62M46.49 206.85L45.99 206.85M45.99 204.53L45.99 206.85M46.10 210.72L46.10 212.28M46.10 211.50L45.84 211.50M45.84 209.17L45.84 211.50M45.99 205.69L40.61 205.69M45.84 210.34L40.61 210.34M40.61 205.69L40.61 210.34M49.61 215.38L49.61 216.92M49.61 216.15L48.72 216.15M48.72 213.83L48.72 216.15M45.10 220.03L45.10 221.58M45.10 220.80L44.56 220.80M44.56 218.47L44.56 220.80M48.72 214.99L40.09 214.99M44.56 219.64L40.09 219.64M40.09 214.99L40.09 219.64M40.61 208.01L38.01 208.01M40.09 217.31L38.01 217.31M38.01 208.01L38.01 217.31M39.95 196.00L35.17 196.00M38.01 212.66L35.17 212.66M35.17 196.00L35.17 212.66M39.92 183.89L34.92 183.89M35.17 204.33L34.92 204.33M34.92 183.89L34.92 204.33M47.13 227.78L47.13 229.33M47.13 228.55L46.35 228.55M46.35 226.22L46.35 228.55M46.35 227.39L46.23 227.39M46.23 224.67L46.23 227.39M47.63 235.53L47.63 237.08M47.63 236.30L46.74 236.30M46.74 233.97L46.74 236.30M46.74 235.14L46.33 235.14M46.33 232.42L46.33 235.14M46.33 233.78L45.50 233.78M45.50 230.88L45.50 233.78M46.23 226.03L41.01 226.03M45.50 232.33L41.01 232.33M41.01 226.03L41.01 232.33M41.01 229.18L39.78 229.18M39.78 223.12L39.78 229.18M47.21 241.72L47.21 243.28M47.21 242.50L46.91 242.50M46.91 240.17L46.91 242.50M46.91 241.34L46.69 241.34M46.69 238.62L46.69 241.34M45.37 246.38L45.37 247.92M45.37 247.15L44.90 247.15M44.90 244.83L44.90 247.15M46.69 239.98L41.77 239.98M44.90 245.99L41.77 245.99M41.77 239.98L41.77 245.99M45.66 251.03L45.66 252.58M45.66 251.80L40.95 251.80M40.95 249.47L40.95 251.80M44.17 254.12L44.17 255.67M45.65 257.22L45.65 258.77M46.99 263.43L46.99 264.97M46.99 264.20L45.97 264.20M45.97 261.88L45.97 264.20M45.97 263.04L44.92 263.04M44.92 260.32L44.92 263.04M45.65 258.00L41.80 258.00M44.92 261.68L41.80 261.68M41.80 258.00L41.80 261.68M44.17 254.90L40.88 254.90M41.80 259.84L40.88 259.84M40.88 254.90L40.88 259.84M40.95 250.64L36.35 250.64M40.88 257.37L36.35 257.37M36.35 250.64L36.35 257.37M41.77 242.98L35.82 242.98M36.35 254.00L35.82 254.00M35.82 242.98L35.82 254.00M39.78 226.15L34.83 226.15M35.82 248.49L34.83 248.49M34.83 226.15L34.83 248.49M48.71 268.07L48.71 269.62M48.07 271.18L48.07 272.72M48.71 268.85L48.00 268.85M48.07 271.95L48.00 271.95M48.00 268.85L48.00 271.95M48.00 270.40L47.80 270.40M47.80 266.52L47.80 270.40M45.67 280.47L45.67 282.02M45.67 281.25L44.35 281.25M44.35 278.92L44.35 281.25M44.35 280.09L43.72 280.09M43.72 277.38L43.72 280.09M43.72 278.73L43.01 278.73M43.01 275.82L43.01 278.73M43.01 277.28L42.84 277.28M42.84 274.27L42.84 277.28M47.80 268.46L42.43 268.46M42.84 275.78L42.43 275.78M42.43 268.46L42.43 275.78M48.73 285.12L48.73 286.67M48.73 285.90L48.46 285.90M48.46 283.57L48.46 285.90M47.20 288.22L47.20 289.77M46.28 292.88L46.28 294.42M46.28 293.65L45.60 293.65M45.60 291.32L45.60 293.65M47.20 289.00L41.23 289.00M45.60 292.49L41.23 292.49M41.23 289.00L41.23 292.49M48.46 284.74L40.13 284.74M41.23 290.74L40.13 290.74M40.13 284.74L40.13 290.74M45.20 297.52L45.20 299.07M45.20 298.30L44.00 298.30M44.00 295.97L44.00 298.30M46.35 300.62L46.35 302.17M46.86 306.82L46.86 308.38M46.86 307.60L46.60 307.60M46.60 305.27L46.60 307.60M46.60 306.44L46.21 306.44M46.21 303.72L46.21 306.44M46.35 301.40L45.75 301.40M46.21 305.08L45.75 305.08M45.75 301.40L45.75 305.08M46.83 313.02L46.83 314.57M46.83 313.80L46.20 313.80M46.20 311.47L46.20 313.80M46.20 312.64L45.59 312.64M45.59 309.92L45.59 312.64M45.75 303.24L40.42 303.24M45.59 311.28L40.42 311.28M40.42 303.24L40.42 311.28M44.00 297.14L38.88 297.14M40.42 307.26L38.88 307.26M38.88 297.14L38.88 307.26M40.13 287.74L36.38 287.74M38.88 302.20L36.38 302.20M36.38 287.74L36.38 302.20M42.43 272.12L33.79 272.12M36.38 294.97L33.79 294.97M33.79 272.12L33.79 294.97M34.83 237.32L32.61 237.32M33.79 283.54L32.61 283.54M32.61 237.32L32.61 283.54M34.92 194.11L29.41 194.11M32.61 260.43L29.41 260.43M29.41 194.11L29.41 260.43M42.72 316.12L42.72 317.67M43.69 322.32L43.69 323.88M43.69 323.10L43.33 323.10M43.33 320.77L43.33 323.10M43.33 321.94L42.64 321.94M42.64 319.22L42.64 321.94M42.72 316.90L40.45 316.90M42.64 320.58L40.45 320.58M40.45 316.90L40.45 320.58M41.71 328.52L41.71 330.07M41.71 329.30L40.57 329.30M40.57 326.97L40.57 329.30M40.57 328.14L39.70 328.14M39.70 325.42L39.70 328.14M40.45 318.74L39.30 318.74M39.70 326.78L39.30 326.78M39.30 318.74L39.30 326.78M48.80 331.62L48.80 333.17M48.51 334.72L48.51 336.27M48.80 332.40L47.73 332.40M48.51 335.50L47.73 335.50M47.73 332.40L47.73 335.50M43.36 339.38L43.36 340.92M43.36 340.15L42.38 340.15M42.38 337.82L42.38 340.15M43.37 344.02L43.37 345.57M43.37 344.80L42.18 344.80M42.18 342.47L42.18 344.80M42.38 338.99L41.77 338.99M42.18 343.64L41.77 343.64M41.77 338.99L41.77 343.64M47.73 333.95L40.83 333.95M41.77 341.31L40.83 341.31M40.83 333.95L40.83 341.31M40.49 348.67L40.49 350.22M40.49 349.45L40.20 349.45M40.20 347.12L40.20 349.45M40.83 337.63L38.82 337.63M40.20 348.29L38.82 348.29M38.82 337.63L38.82 348.29M39.30 322.76L32.36 322.76M38.82 342.96L32.36 342.96M32.36 322.76L32.36 342.96M41.18 351.77L41.18 353.32M46.66 357.97L46.66 359.52M46.66 358.75L41.97 358.75M41.97 356.42L41.97 358.75M41.97 357.59L41.07 357.59M41.07 354.88L41.07 357.59M41.18 352.55L40.10 352.55M41.07 356.23L40.10 356.23M40.10 352.55L40.10 356.23M45.06 362.62L45.06 364.17M45.06 363.40L44.11 363.40M44.11 361.07L44.11 363.40M46.87 367.27L46.87 368.82M46.87 368.05L46.04 368.05M46.04 365.72L46.04 368.05M47.22 371.92L47.22 373.47M47.22 372.70L45.70 372.70M45.70 370.38L45.70 372.70M46.04 366.89L40.91 366.89M45.70 371.54L40.91 371.54M40.91 366.89L40.91 371.54M44.11 362.24L39.48 362.24M40.91 369.21L39.48 369.21M39.48 362.24L39.48 369.21M48.33 376.57L48.33 378.12M48.33 377.35L47.47 377.35M47.47 375.02L47.47 377.35M46.20 379.67L46.20 381.22M46.01 382.77L46.01 384.32M46.20 380.45L42.58 380.45M46.01 383.55L42.58 383.55M42.58 380.45L42.58 383.55M47.47 376.19L41.67 376.19M42.58 382.00L41.67 382.00M41.67 376.19L41.67 382.00M47.63 387.42L47.63 388.97M47.63 388.20L46.30 388.20M46.30 385.87L46.30 388.20M42.81 390.52L42.81 392.07M46.30 387.04L39.42 387.04M42.81 391.30L39.42 391.30M39.42 387.04L39.42 391.30M41.67 379.09L35.67 379.09M39.42 389.17L35.67 389.17M35.67 379.09L35.67 389.17M39.48 365.72L34.70 365.72M35.67 384.13L34.70 384.13M34.70 365.72L34.70 384.13M40.10 354.39L34.16 354.39M34.70 374.93L34.16 374.93M34.16 354.39L34.16 374.93M42.31 396.73L42.31 398.28M42.31 397.50L41.11 397.50M41.11 395.18L41.11 397.50M41.11 396.34L39.28 396.34M39.28 393.62L39.28 396.34M40.04 399.82L40.04 401.37M49.92 402.92L49.92 404.47M49.69 407.57L49.69 409.12M49.69 408.35L49.42 408.35M49.42 406.02L49.42 408.35M49.92 403.70L49.22 403.70M49.42 407.19L49.22 407.19M49.22 403.70L49.22 407.19M44.85 413.78L44.85 415.32M44.85 414.55L43.80 414.55M43.80 412.23L43.80 414.55M43.80 413.39L43.57 413.39M43.57 410.68L43.57 413.39M49.22 405.44L40.73 405.44M43.57 412.03L40.73 412.03M40.73 405.44L40.73 412.03M41.69 419.97L41.69 421.52M41.69 420.75L41.32 420.75M41.32 418.42L41.32 420.75M41.32 419.59L40.42 419.59M40.42 416.87L40.42 419.59M40.73 408.74L38.43 408.74M40.42 418.23L38.43 418.23M38.43 408.74L38.43 418.23M40.04 400.60L33.89 400.60M38.43 413.48L33.89 413.48M33.89 400.60L33.89 413.48M39.28 394.98L33.67 394.98M33.89 407.04L33.67 407.04M33.67 394.98L33.67 407.04M34.16 364.66L28.75 364.66M33.67 401.01L28.75 401.01M28.75 364.66L28.75 401.01M32.36 332.86L28.06 332.86M28.75 382.84L28.06 382.84M28.06 332.86L28.06 382.84M29.41 227.27L27.67 227.27M28.06 357.85L27.67 357.85M27.67 227.27L27.67 357.85M32.38 143.51L26.30 143.51M27.67 292.56L26.30 292.56M26.30 143.51L26.30 292.56" stroke="#222" stroke-width="0.8" fill="none"/>
<path d="M55.30 133.22L43.44 133.22M55.30 134.78L43.44 134.78M55.30 131.68L41.30 131.68M55.30 130.12L41.12 130.12M55.30 139.43L42.22 139.43M55.30 140.97L42.22 140.97M55.30 142.53L42.08 142.53M55.30 144.08L42.08 144.08M55.30 137.88L41.24 137.88M55.30 136.33L40.30 136.33M55.30 128.57L37.35 128.57M55.30 145.62L48.63 145.62M55.30 147.18L48.63 147.18M55.30 150.28L45.74 150.28M55.30 151.83L45.74 151.83M55.30 148.72L44.99 148.72M55.30 153.38L44.39 153.38M55.30 154.93L44.39 154.93M55.30 159.58L43.82 159.58M55.30 161.12L43.82 161.12M55.30 158.03L43.46 158.03M55.30 156.47L42.26 156.47M55.30 162.67L42.99 162.67M55.30 164.22L42.99 164.22M55.30 167.33L42.98 167.33M55.30 168.88L42.98 168.88M55.30 165.78L42.28 165.78M55.30 170.42L43.61 170.42M55.30 171.97L43.61 171.97M55.30 175.08L41.28 175.08M55.30 176.62L41.28 176.62M55.30 173.53L41.01 173.53M55.30 178.17L43.38 178.17M55.30 179.72L43.38 179.72M55.30 182.83L43.91 182.83M55.30 184.38L43.91 184.38M55.30 181.28L43.22 181.28M55.30 187.47L43.57 187.47M55.30 189.03L43.57 189.03M55.30 185.92L42.68 185.92M55.30 193.67L46.30 193.67M55.30 195.22L46.30 195.22M55.30 192.12L45.07 192.12M55.30 190.58L43.86 190.58M55.30 198.33L49.43 198.33M55.30 199.88L49.43 199.88M55.30 196.78L48.78 196.78M55.30 201.42L45.46 201.42M55.30 202.97L45.46 202.97M55.30 206.08L46.49 206.08M55.30 207.62L46.49 207.62M55.30 204.53L45.99 204.53M55.30 210.72L46.10 210.72M55.30 212.28L46.10 212.28M55.30 209.17L45.84 209.17M55.30 215.38L49.61 215.38M55.30 216.92L49.61 216.92M55.30 213.83L48.72 213.83M55.30 220.03L45.10 220.03M55.30 221.58L45.10 221.58M55.30 218.47L44.56 218.47M55.30 227.78L47.13 227.78M55.30 229.33L47.13 229.33M55.30 226.22L46.35 226.22M55.30 224.67L46.23 224.67M55.30 235.53L47.63 235.53M55.30 237.08L47.63 237.08M55.30 233.97L46.74 233.97M55.30 232.42L46.33 232.42M55.30 230.88L45.50 230.88M55.30 223.12L39.78 223.12M55.30 241.72L47.21 241.72M55.30 243.28L47.21 243.28M55.30 240.17L46.91 240.17M55.30 238.62L46.69 238.62M55.30 246.38L45.37 246.38M55.30 247.92L45.37 247.92M55.30 244.83L44.90 244.83M55.30 251.03L45.66 251.03M55.30 252.58L45.66 252.58M55.30 249.47L40.95 249.47M55.30 254.12L44.17 254.12M55.30 255.67L44.17 255.67M55.30 257.22L45.65 257.22M55.30 258.77L45.65 258.77M55.30 263.43L46.99 263.43M55.30 264.97L46.99 264.97M55.30 261.88L45.97 261.88M55.30 260.32L44.92 260.32M55.30 268.07L48.71 268.07M55.30 269.62L48.71 269.62M55.30 271.18L48.07 271.18M55.30 272.72L48.07 272.72M55.30 266.52L47.80 266.52M55.30 280.47L45.67 280.47M55.30 282.02L45.67 282.02M55.30 278.92L44.35 278.92M55.30 277.38L43.72 277.38M55.30 275.82L43.01 275.82M55.30 274.27L42.84 274.27M55.30 285.12L48.73 285.12M55.30 286.67L48.73 286.67M55.30 283.57L48.46 283.57M55.30 288.22L47.20 288.22M55.30 289.77L47.20 289.77M55.30 292.88L46.28 292.88M55.30 294.42L46.28 294.42M55.30 291.32L45.60 291.32M55.30 297.52L45.20 297.52M55.30 299.07L45.20 299.07M55.30 295.97L44.00 295.97M55.30 300.62L46.35 300.62M55.30 302.17L46.35 302.17M55.30 306.82L46.86 306.82M55.30 308.38L46.86 308.38M55.30 305.27L46.60 305.27M55.30 303.72L46.21 303.72M55.30 313.02L46.83 313.02M55.30 314.57L46.83 314.57M55.30 311.47L46.20 311.47M55.30 309.92L45.59 309.92M55.30 316.12L42.72 316.12M55.30 317.67L42.72 317.67M55.30 322.32L43.69 322.32M55.30 323.88L43.69 323.88M55.30 320.77L43.33 320.77M55.30 319.22L42.64 319.22M55.30 328.52L41.71 328.52M55.30 330.07L41.71 330.07M55.30 326.97L40.57 326.97M55.30 325.42L39.70 325.42M55.30 331.62L48.80 331.62M55.30 333.17L48.80 333.17M55.30 334.72L48.51 334.72M55.30 336.27L48.51 336.27M55.30 339.38L43.36 339.38M55.30 340.92L43.36 340.92M55.30 337.82L42.38 337.82M55.30 344.02L43.37 344.02M55.30 345.57L43.37 345.57M55.30 342.47L42.18 342.47M55.30 348.67L40.49 348.67M55.30 350.22L40.49 350.22M55.30 347.12L40.20 347.12M55.30 351.77L41.18 351.77M55.30 353.32L41.18 353.32M55.30 357.97L46.66 357.97M55.30 359.52L46.66 359.52M55.30 356.42L41.97 356.42M55.30 354.88L41.07 354.88M55.30 362.62L45.06 362.62M55.30 364.17L45.06 364.17M55.30 361.07L44.11 361.07M55.30 367.27L46.87 367.27M55.30 368.82L46.87 368.82M55.30 365.72L46.04 365.72M55.30 371.92L47.22 371.92M55.30 373.47L47.22 373.47M55.30 370.38L45.70 370.38M55.30 376.57L48.33 376.57M55.30 378.12L48.33 378.12M55.30 375.02L47.47 375.02M55.30 379.67L46.20 379.67M55.30 381.22L46.20 381.22M55.30 382.77L46.01 382.77M55.30 384.32L46.01 384.32M55.30 387.42L47.63 387.42M55.30 388.97L47.63 388.97M55.30 385.87L46.30 385.87M55.30 390.52L42.81 390.52M55.30 392.07L42.81 392.07M55.30 396.73L42.31 396.73M55.30 398.28L42.31 398.28M55.30 395.18L41.11 395.18M55.30 393.62L39.28 393.62M55.30 399.82L40.04 399.82M55.30 401.37L40.04 401.37M55.30 402.92L49.92 402.92M55.30 404.47L49.92 404.47M55.30 407.57L49.69 407.57M55.30 409.12L49.69 409.12M55.30 406.02L49.42 406.02M55.30 413.78L44.85 413.78M55.30 415.32L44.85 415.32M55.30 412.23L43.80 412.23M55.30 410.68L43.57 410.68M55.30 419.97L41.69 419.97M55.30 421.52L41.69 421.52M55.30 418.42L41.32 418.42M55.30 416.87L40.42 416.87" stroke="#000" stroke-width="1.05" fill="none"/>
<rect x="434.60" y="127.30" width="9.00" height="51.70" fill="#ff0000"/>
<rect x="434.60" y="179.00" width="9.00" height="8.80" fill="#a00000"/>
<rect x="434.60" y="187.80" width="9.00" height="8.00" fill="#000000"/>
<rect x="434.60" y="195.80" width="9.00" height="8.90" fill="#008a19"/>
<rect x="434.60" y="204.70" width="9.00" height="59.40" fill="#00ff1e"/>
<text x="447.60" y="131.80" font-size="7.3" fill="#1a1a1a" stroke="#1a1a1a" stroke-width="0.18">4</text>
<text x="447.60" y="166.30" font-size="7.3" fill="#1a1a1a" stroke="#1a1a1a" stroke-width="0.18">2</text>
<text x="447.60" y="200.90" font-size="7.3" fill="#1a1a1a" stroke="#1a1a1a" stroke-width="0.18">0</text>
<text x="447.60" y="235.00" font-size="7.3" fill="#1a1a1a" stroke="#1a1a1a" stroke-width="0.18">-2</text>
<text x="447.60" y="269.40" font-size="7.3" fill="#1a1a1a" stroke="#1a1a1a" stroke-width="0.18">-4</text>
<text x="463.70" y="134.90" font-size="7.8" textLength="17.60" lengthAdjust="spacingAndGlyphs" fill="#1a1a1a" stroke="#1a1a1a" stroke-width="0.18">WHO</text>
<rect x="461.30" y="139.10" width="15.30" height="14.80" fill="#ffa500"/>
<rect x="461.30" y="153.90" width="15.30" height="14.90" fill="#c8c8c8"/>
<rect x="461.30" y="168.80" width="15.30" height="15.30" fill="#00ff1e"/>
<text x="480.60" y="150.40" font-size="7.0" textLength="25.20" lengthAdjust="spacingAndGlyphs" fill="#1a1a1a" stroke="#1a1a1a" stroke-width="0.18">Sy.ALK+</text>
<text x="480.60" y="165.40" font-size="7.0" textLength="23.40" lengthAdjust="spacingAndGlyphs" fill="#1a1a1a" stroke="#1a1a1a" stroke-width="0.18">Sy.ALK-</text>
<text x="480.20" y="180.60" font-size="7.0" textLength="28.80" lengthAdjust="spacingAndGlyphs" fill="#1a1a1a" stroke="#1a1a1a" stroke-width="0.18">Prim.Cut.</text>
<text x="463.00" y="203.40" font-size="7.8" textLength="27.70" lengthAdjust="spacingAndGlyphs" fill="#1a1a1a" stroke="#1a1a1a" stroke-width="0.18">DUSP22</text>
<rect x="461.50" y="206.90" width="14.80" height="15.20" fill="#ff00ff"/>
<rect x="461.50" y="222.10" width="14.80" height="14.50" fill="#c8c8c8"/>
<text x="480.80" y="218.70" font-size="7.0" textLength="10.30" lengthAdjust="spacingAndGlyphs" fill="#1a1a1a" stroke="#1a1a1a" stroke-width="0.18">Yes</text>
<text x="480.80" y="233.90" font-size="7.0" textLength="9.10" lengthAdjust="spacingAndGlyphs" fill="#1a1a1a" stroke="#1a1a1a" stroke-width="0.18">No</text>
<text x="463.40" y="256.30" font-size="7.8" textLength="13.30" lengthAdjust="spacingAndGlyphs" fill="#1a1a1a" stroke="#1a1a1a" stroke-width="0.18">ALK</text>
<rect x="461.50" y="259.90" width="14.80" height="15.10" fill="#7fffd4"/>
<rect x="461.50" y="275.00" width="14.80" height="14.80" fill="#c8c8c8"/>
<text x="480.80" y="271.70" font-size="7.0" textLength="10.30" lengthAdjust="spacingAndGlyphs" fill="#1a1a1a" stroke="#1a1a1a" stroke-width="0.18">Yes</text>
<text x="480.80" y="286.30" font-size="7.0" textLength="9.10" lengthAdjust="spacingAndGlyphs" fill="#1a1a1a" stroke="#1a1a1a" stroke-width="0.18">No</text>
<text x="9.00" y="449.30" font-size="10.5" fill="#1a1a1a" stroke="#1a1a1a" stroke-width="0.18">B</text>
<text x="116.40" y="453.50" font-size="8.4" textLength="62.30" lengthAdjust="spacingAndGlyphs" fill="#1a1a1a" stroke="#1a1a1a" stroke-width="0.18">Enrichment plot:</text>
<text x="73.80" y="463.80" font-size="8.4" textLength="147.20" lengthAdjust="spacingAndGlyphs" fill="#1a1a1a" stroke="#1a1a1a" stroke-width="0.18">HALLMARK_IL6_JAK_STAT3_SIGNALING</text>
<line x1="94.10" y1="469.40" x2="94.10" y2="553.80" stroke="#eeeeee" stroke-width="0.8" stroke-dasharray="1.5 1"/>
<line x1="136.50" y1="469.40" x2="136.50" y2="553.80" stroke="#eeeeee" stroke-width="0.8" stroke-dasharray="1.5 1"/>
<line x1="178.90" y1="469.40" x2="178.90" y2="553.80" stroke="#eeeeee" stroke-width="0.8" stroke-dasharray="1.5 1"/>
<line x1="221.30" y1="469.40" x2="221.30" y2="553.80" stroke="#eeeeee" stroke-width="0.8" stroke-dasharray="1.5 1"/>
<line x1="52.10" y1="481.73" x2="251.50" y2="481.73" stroke="#eeeeee" stroke-width="0.8" stroke-dasharray="1.5 1"/>
<line x1="52.10" y1="493.96" x2="251.50" y2="493.96" stroke="#eeeeee" stroke-width="0.8" stroke-dasharray="1.5 1"/>
<line x1="52.10" y1="506.19" x2="251.50" y2="506.19" stroke="#eeeeee" stroke-width="0.8" stroke-dasharray="1.5 1"/>
<line x1="52.10" y1="518.42" x2="251.50" y2="518.42" stroke="#eeeeee" stroke-width="0.8" stroke-dasharray="1.5 1"/>
<line x1="52.10" y1="530.65" x2="251.50" y2="530.65" stroke="#eeeeee" stroke-width="0.8" stroke-dasharray="1.5 1"/>
<line x1="52.10" y1="542.88" x2="251.50" y2="542.88" stroke="#eeeeee" stroke-width="0.8" stroke-dasharray="1.5 1"/>
<line x1="94.10" y1="588.60" x2="94.10" y2="643.80" stroke="#eeeeee" stroke-width="0.8" stroke-dasharray="1.5 1"/>
<line x1="136.50" y1="588.60" x2="136.50" y2="643.80" stroke="#eeeeee" stroke-width="0.8" stroke-dasharray="1.5 1"/>
<line x1="178.90" y1="588.60" x2="178.90" y2="643.80" stroke="#eeeeee" stroke-width="0.8" stroke-dasharray="1.5 1"/>
<line x1="221.30" y1="588.60" x2="221.30" y2="643.80" stroke="#eeeeee" stroke-width="0.8" stroke-dasharray="1.5 1"/>
<line x1="52.10" y1="602.50" x2="251.50" y2="602.50" stroke="#eeeeee" stroke-width="0.8" stroke-dasharray="1.5 1"/>
<line x1="52.10" y1="636.50" x2="251.50" y2="636.50" stroke="#eeeeee" stroke-width="0.8" stroke-dasharray="1.5 1"/>
<line x1="242.00" y1="581.40" x2="251.50" y2="581.40" stroke="#ddd" stroke-width="0.8"/>
<line x1="242.00" y1="588.60" x2="251.50" y2="588.60" stroke="#ddd" stroke-width="0.8"/>
<line x1="203.50" y1="553.80" x2="203.50" y2="581.40" stroke="#b4b4b4" stroke-width="1.0"/>
<line x1="204.30" y1="553.80" x2="204.30" y2="581.40" stroke="#b4b4b4" stroke-width="1.0"/>
<line x1="210.30" y1="553.80" x2="210.30" y2="581.40" stroke="#b4b4b4" stroke-width="1.0"/>
<line x1="212.40" y1="553.80" x2="212.40" y2="581.40" stroke="#b4b4b4" stroke-width="1.0"/>
<line x1="214.50" y1="553.80" x2="214.50" y2="581.40" stroke="#b4b4b4" stroke-width="1.0"/>
<line x1="216.70" y1="553.80" x2="216.70" y2="581.40" stroke="#b4b4b4" stroke-width="1.0"/>
<line x1="218.80" y1="553.80" x2="218.80" y2="581.40" stroke="#b4b4b4" stroke-width="1.0"/>
<line x1="220.70" y1="553.80" x2="220.70" y2="581.40" stroke="#b4b4b4" stroke-width="1.0"/>
<line x1="224.50" y1="553.80" x2="224.50" y2="581.40" stroke="#b4b4b4" stroke-width="1.0"/>
<line x1="229.90" y1="553.80" x2="229.90" y2="581.40" stroke="#b4b4b4" stroke-width="1.0"/>
<line x1="230.50" y1="553.80" x2="230.50" y2="581.40" stroke="#b4b4b4" stroke-width="1.0"/>
<line x1="234.00" y1="553.80" x2="234.00" y2="581.40" stroke="#b4b4b4" stroke-width="1.0"/>
<line x1="234.80" y1="553.80" x2="234.80" y2="581.40" stroke="#b4b4b4" stroke-width="1.0"/>
<line x1="236.60" y1="553.80" x2="236.60" y2="581.40" stroke="#b4b4b4" stroke-width="1.0"/>
<line x1="238.30" y1="553.80" x2="238.30" y2="581.40" stroke="#b4b4b4" stroke-width="1.0"/>
<line x1="240.10" y1="553.80" x2="240.10" y2="581.40" stroke="#b4b4b4" stroke-width="1.0"/>
<line x1="241.60" y1="553.80" x2="241.60" y2="581.40" stroke="#b4b4b4" stroke-width="1.0"/>
<line x1="65.40" y1="553.80" x2="65.40" y2="581.40" stroke="#555" stroke-width="1.0"/>
<line x1="81.30" y1="553.80" x2="81.30" y2="581.40" stroke="#555" stroke-width="1.0"/>
<line x1="118.70" y1="553.80" x2="118.70" y2="581.40" stroke="#555" stroke-width="1.0"/>
<line x1="128.50" y1="553.80" x2="128.50" y2="581.40" stroke="#555" stroke-width="1.0"/>
<line x1="140.00" y1="553.80" x2="140.00" y2="581.40" stroke="#444" stroke-width="1.0"/>
<line x1="141.00" y1="553.80" x2="141.00" y2="581.40" stroke="#444" stroke-width="1.0"/>
<line x1="145.60" y1="553.80" x2="145.60" y2="581.40" stroke="#555" stroke-width="1.0"/>
<line x1="151.70" y1="553.80" x2="151.70" y2="581.40" stroke="#aaa" stroke-width="1.0"/>
<line x1="152.90" y1="553.80" x2="152.90" y2="581.40" stroke="#aaa" stroke-width="1.0"/>
<line x1="154.10" y1="553.80" x2="154.10" y2="581.40" stroke="#aaa" stroke-width="1.0"/>
<line x1="168.80" y1="553.80" x2="168.80" y2="581.40" stroke="#999" stroke-width="1.0"/>
<line x1="171.20" y1="553.80" x2="171.20" y2="581.40" stroke="#555" stroke-width="1.0"/>
<line x1="173.50" y1="553.80" x2="173.50" y2="581.40" stroke="#999" stroke-width="1.0"/>
<line x1="179.80" y1="553.80" x2="179.80" y2="581.40" stroke="#333" stroke-width="1.0"/>
<line x1="181.50" y1="553.80" x2="181.50" y2="581.40" stroke="#999" stroke-width="1.0"/>
<line x1="184.40" y1="553.80" x2="184.40" y2="581.40" stroke="#555" stroke-width="1.0"/>
<line x1="186.70" y1="553.80" x2="186.70" y2="581.40" stroke="#999" stroke-width="1.0"/>
<line x1="189.00" y1="553.80" x2="189.00" y2="581.40" stroke="#999" stroke-width="1.0"/>
<line x1="195.40" y1="553.80" x2="195.40" y2="581.40" stroke="#555" stroke-width="1.0"/>
<line x1="196.50" y1="553.80" x2="196.50" y2="581.40" stroke="#555" stroke-width="1.0"/>
<line x1="198.30" y1="553.80" x2="198.30" y2="581.40" stroke="#111" stroke-width="1.0"/>
<line x1="200.60" y1="553.80" x2="200.60" y2="581.40" stroke="#999" stroke-width="1.0"/>
<line x1="202.30" y1="553.80" x2="202.30" y2="581.40" stroke="#666" stroke-width="1.0"/>
<line x1="205.20" y1="553.80" x2="205.20" y2="581.40" stroke="#aaa" stroke-width="1.0"/>
<line x1="206.50" y1="553.80" x2="206.50" y2="581.40" stroke="#999" stroke-width="1.0"/>
<line x1="207.80" y1="553.80" x2="207.80" y2="581.40" stroke="#aaa" stroke-width="1.0"/>
<line x1="209.20" y1="553.80" x2="209.20" y2="581.40" stroke="#999" stroke-width="1.0"/>
<line x1="211.50" y1="553.80" x2="211.50" y2="581.40" stroke="#aaa" stroke-width="1.0"/>
<line x1="213.30" y1="553.80" x2="213.30" y2="581.40" stroke="#999" stroke-width="1.0"/>
<line x1="215.60" y1="553.80" x2="215.60" y2="581.40" stroke="#aaa" stroke-width="1.0"/>
<line x1="217.90" y1="553.80" x2="217.90" y2="581.40" stroke="#999" stroke-width="1.0"/>
<line x1="219.60" y1="553.80" x2="219.60" y2="581.40" stroke="#aaa" stroke-width="1.0"/>
<line x1="221.90" y1="553.80" x2="221.90" y2="581.40" stroke="#111" stroke-width="1.0"/>
<line x1="223.70" y1="553.80" x2="223.70" y2="581.40" stroke="#555" stroke-width="1.0"/>
<line x1="225.40" y1="553.80" x2="225.40" y2="581.40" stroke="#aaa" stroke-width="1.0"/>
<line x1="226.50" y1="553.80" x2="226.50" y2="581.40" stroke="#aaa" stroke-width="1.0"/>
<line x1="227.70" y1="553.80" x2="227.70" y2="581.40" stroke="#999" stroke-width="1.0"/>
<line x1="228.80" y1="553.80" x2="228.80" y2="581.40" stroke="#aaa" stroke-width="1.0"/>
<line x1="231.20" y1="553.80" x2="231.20" y2="581.40" stroke="#999" stroke-width="1.0"/>
<line x1="232.90" y1="553.80" x2="232.90" y2="581.40" stroke="#555" stroke-width="1.0"/>
<line x1="235.80" y1="553.80" x2="235.80" y2="581.40" stroke="#aaa" stroke-width="1.0"/>
<line x1="237.50" y1="553.80" x2="237.50" y2="581.40" stroke="#555" stroke-width="1.0"/>
<line x1="239.20" y1="553.80" x2="239.20" y2="581.40" stroke="#999" stroke-width="1.0"/>
<line x1="241.00" y1="553.80" x2="241.00" y2="581.40" stroke="#aaa" stroke-width="1.0"/>
<rect x="52.50" y="581.40" width="5.40" height="7.20" fill="rgb(255,45,55)"/>
<rect x="57.70" y="581.40" width="28.30" height="7.20" fill="rgb(255,80,95)"/>
<rect x="85.80" y="581.40" width="14.40" height="7.20" fill="rgb(255,112,130)"/>
<rect x="100.00" y="581.40" width="18.90" height="7.20" fill="rgb(255,135,145)"/>
<rect x="118.70" y="581.40" width="21.90" height="7.20" fill="rgb(252,190,225)"/>
<rect x="140.40" y="581.40" width="6.10" height="7.20" fill="rgb(250,200,232)"/>
<rect x="146.30" y="581.40" width="23.90" height="7.20" fill="rgb(220,220,252)"/>
<rect x="170.00" y="581.40" width="9.40" height="7.20" fill="rgb(210,205,250)"/>
<rect x="179.20" y="581.40" width="8.30" height="7.20" fill="rgb(200,192,246)"/>
<rect x="187.30" y="581.40" width="14.80" height="7.20" fill="rgb(140,140,240)"/>
<rect x="201.90" y="581.40" width="27.30" height="7.20" fill="rgb(112,100,234)"/>
<rect x="229.00" y="581.40" width="10.00" height="7.20" fill="rgb(62,40,210)"/>
<rect x="238.80" y="581.40" width="3.20" height="7.20" fill="rgb(95,40,180)"/>
<text x="53.00" y="595.80" font-size="7.2" textLength="83.90" lengthAdjust="spacingAndGlyphs" fill="#d03030" stroke="#d03030" stroke-width="0.18">'na_pos' (positively correlated)</text>
<path d="M52.80 619.50 L52.80 606.40 L55.00 608.80 L57.20 610.50 L60.00 611.70 L64.40 612.90 L69.00 614.00 L74.00 614.80 L85.00 615.90 L98.00 616.75 L110.00 617.50 L122.00 618.20 L134.00 618.80 L146.20 619.50 L160.00 621.00 L178.00 622.10 L196.00 623.20 L214.00 624.50 L224.00 625.80 L231.00 627.40 L236.00 628.80 L239.00 630.50 L241.00 633.00 L241.80 636.20 L242.00 619.50 Z" fill="#c8c8c8"/>
<line x1="146.20" y1="588.60" x2="146.20" y2="643.80" stroke="#d0d0d0" stroke-width="0.8" stroke-dasharray="1.5 1.2"/>
<text x="123.30" y="617.80" font-size="7.0" textLength="50.50" lengthAdjust="spacingAndGlyphs" fill="#1a1a1a" stroke="#1a1a1a" stroke-width="0.18">Zero cross at 5567</text>
<text x="144.40" y="641.60" font-size="7.2" textLength="86.10" lengthAdjust="spacingAndGlyphs" fill="#6a3fb0" stroke="#6a3fb0" stroke-width="0.18">'na_neg' (negatively correlated)</text>
<polyline points="52.80,469.90 65.50,478.80 65.90,476.40 81.20,486.40 81.60,484.90 84.00,486.26 86.00,487.71 88.00,488.87 90.00,490.27 92.00,491.55 94.00,492.48 96.00,493.71 98.00,495.47 100.00,496.38 102.00,497.63 104.00,499.35 106.00,500.30 108.00,501.79 110.00,502.83 112.00,504.20 114.00,505.17 116.00,506.72 118.00,508.13 120.00,509.18 122.00,510.58 124.00,511.80 126.00,512.70 128.00,514.38 130.00,515.54 132.00,516.63 134.00,517.74 136.00,519.50 138.00,520.53 140.00,521.94 142.00,523.30 144.00,524.47 146.00,525.85 148.00,526.80 150.00,528.31 152.00,529.36 154.00,530.92 156.00,532.15 158.00,532.94 160.00,534.23 162.00,535.54 164.00,537.26 166.00,538.20 168.00,539.58 170.00,540.65 172.00,541.00 176.00,543.20 179.80,544.60 183.00,544.90 186.00,546.00 189.60,546.40 192.00,547.60 194.50,549.20 196.50,546.50 198.50,543.80 200.20,542.20 203.00,541.60 206.00,541.20 209.20,541.00 212.00,540.70 214.10,540.20 216.50,538.00 219.00,534.50 221.00,532.50 223.20,528.50 223.90,527.90 224.30,522.00 224.80,519.80 227.00,518.80 230.50,517.30 231.50,512.00 232.90,508.30 234.50,507.00 236.20,505.00 237.00,499.00 237.80,493.60 239.00,489.00 240.30,485.40 241.90,483.80 242.10,476.00 242.20,469.90" fill="none" stroke="#14f53c" stroke-width="1.9" stroke-linejoin="round"/>
<text x="166.90" y="487.50" font-size="7.4" textLength="40.20" lengthAdjust="spacingAndGlyphs" fill="#1a1a1a" stroke="#1a1a1a" stroke-width="0.18">NES = -2.464</text>
<text x="168.10" y="496.70" font-size="7.4" textLength="38.10" lengthAdjust="spacingAndGlyphs" fill="#1a1a1a" stroke="#1a1a1a" stroke-width="0.18">FDR = 0.000</text>
<line x1="52.10" y1="468.80" x2="52.10" y2="644.50" stroke="#1a1a1a" stroke-width="1.5"/>
<line x1="251.50" y1="468.80" x2="251.50" y2="644.50" stroke="#1a1a1a" stroke-width="1.5"/>
<line x1="51.40" y1="469.40" x2="252.20" y2="469.40" stroke="#1a1a1a" stroke-width="1.5"/>
<line x1="51.40" y1="553.80" x2="252.20" y2="553.80" stroke="#1a1a1a" stroke-width="1.5"/>
<line x1="51.40" y1="643.80" x2="252.20" y2="643.80" stroke="#1a1a1a" stroke-width="1.5"/>
<line x1="48.80" y1="469.50" x2="52.10" y2="469.50" stroke="#1a1a1a" stroke-width="1.1"/>
<text x="45.80" y="472.20" font-size="7.4" text-anchor="end" fill="#1a1a1a" stroke="#1a1a1a" stroke-width="0.18">0.0</text>
<line x1="48.80" y1="481.73" x2="52.10" y2="481.73" stroke="#1a1a1a" stroke-width="1.1"/>
<text x="45.80" y="484.43" font-size="7.4" text-anchor="end" fill="#1a1a1a" stroke="#1a1a1a" stroke-width="0.18">-0.1</text>
<line x1="48.80" y1="493.96" x2="52.10" y2="493.96" stroke="#1a1a1a" stroke-width="1.1"/>
<text x="45.80" y="496.66" font-size="7.4" text-anchor="end" fill="#1a1a1a" stroke="#1a1a1a" stroke-width="0.18">-0.2</text>
<line x1="48.80" y1="506.19" x2="52.10" y2="506.19" stroke="#1a1a1a" stroke-width="1.1"/>
<text x="45.80" y="508.89" font-size="7.4" text-anchor="end" fill="#1a1a1a" stroke="#1a1a1a" stroke-width="0.18">-0.3</text>
<line x1="48.80" y1="518.42" x2="52.10" y2="518.42" stroke="#1a1a1a" stroke-width="1.1"/>
<text x="45.80" y="521.12" font-size="7.4" text-anchor="end" fill="#1a1a1a" stroke="#1a1a1a" stroke-width="0.18">-0.4</text>
<line x1="48.80" y1="530.65" x2="52.10" y2="530.65" stroke="#1a1a1a" stroke-width="1.1"/>
<text x="45.80" y="533.35" font-size="7.4" text-anchor="end" fill="#1a1a1a" stroke="#1a1a1a" stroke-width="0.18">-0.5</text>
<line x1="48.80" y1="542.88" x2="52.10" y2="542.88" stroke="#1a1a1a" stroke-width="1.1"/>
<text x="45.80" y="545.58" font-size="7.4" text-anchor="end" fill="#1a1a1a" stroke="#1a1a1a" stroke-width="0.18">-0.6</text>
<line x1="48.80" y1="602.50" x2="52.10" y2="602.50" stroke="#1a1a1a" stroke-width="1.1"/>
<text x="45.80" y="605.20" font-size="7.4" text-anchor="end" fill="#1a1a1a" stroke="#1a1a1a" stroke-width="0.18">25</text>
<line x1="48.80" y1="619.50" x2="52.10" y2="619.50" stroke="#1a1a1a" stroke-width="1.1"/>
<text x="45.80" y="622.20" font-size="7.4" text-anchor="end" fill="#1a1a1a" stroke="#1a1a1a" stroke-width="0.18">0</text>
<line x1="48.80" y1="636.50" x2="52.10" y2="636.50" stroke="#1a1a1a" stroke-width="1.1"/>
<text x="45.80" y="639.20" font-size="7.4" text-anchor="end" fill="#1a1a1a" stroke="#1a1a1a" stroke-width="0.18">-25</text>
<line x1="52.10" y1="643.80" x2="52.10" y2="647.00" stroke="#1a1a1a" stroke-width="1.1"/>
<text x="52.10" y="657.80" font-size="7.4" text-anchor="middle" fill="#1a1a1a" stroke="#1a1a1a" stroke-width="0.18">0</text>
<line x1="94.10" y1="643.80" x2="94.10" y2="647.00" stroke="#1a1a1a" stroke-width="1.1"/>
<text x="94.10" y="657.80" font-size="7.4" text-anchor="middle" fill="#1a1a1a" stroke="#1a1a1a" stroke-width="0.18">2.500</text>
<line x1="136.50" y1="643.80" x2="136.50" y2="647.00" stroke="#1a1a1a" stroke-width="1.1"/>
<text x="136.50" y="657.80" font-size="7.4" text-anchor="middle" fill="#1a1a1a" stroke="#1a1a1a" stroke-width="0.18">5.000</text>
<line x1="178.90" y1="643.80" x2="178.90" y2="647.00" stroke="#1a1a1a" stroke-width="1.1"/>
<text x="178.90" y="657.80" font-size="7.4" text-anchor="middle" fill="#1a1a1a" stroke="#1a1a1a" stroke-width="0.18">7.500</text>
<line x1="221.30" y1="643.80" x2="221.30" y2="647.00" stroke="#1a1a1a" stroke-width="1.1"/>
<text x="221.30" y="657.80" font-size="7.4" text-anchor="middle" fill="#1a1a1a" stroke="#1a1a1a" stroke-width="0.18">10.000</text>
<text x="102.60" y="670.70" font-size="9.2" textLength="97.90" lengthAdjust="spacingAndGlyphs" fill="#1a1a1a" stroke="#1a1a1a" stroke-width="0.18">Rank in ordered dataset</text>
<text x="25.60" y="550.80" font-size="9.4" textLength="90.00" lengthAdjust="spacingAndGlyphs" fill="#1a1a1a" stroke="#1a1a1a" stroke-width="0.18" transform="rotate(-90 25.60 550.80)">Enrichment score (ES)</text>
<text x="28.80" y="683.30" font-size="9.4" textLength="126.30" lengthAdjust="spacingAndGlyphs" fill="#1a1a1a" stroke="#1a1a1a" stroke-width="0.18" transform="rotate(-90 28.80 683.30)">Ranked list metric (PreRanked)</text>
<line x1="30.50" y1="679.00" x2="43.00" y2="679.00" stroke="#4cb848" stroke-width="1.3"/>
<text x="47.00" y="681.40" font-size="7.4" textLength="58.60" lengthAdjust="spacingAndGlyphs" fill="#1a1a1a" stroke="#1a1a1a" stroke-width="0.18">Enrichment profile</text>
<line x1="118.40" y1="679.00" x2="125.80" y2="679.00" stroke="#111" stroke-width="1.3"/>
<text x="129.30" y="681.40" font-size="7.4" textLength="12.70" lengthAdjust="spacingAndGlyphs" fill="#1a1a1a" stroke="#1a1a1a" stroke-width="0.18">Hits</text>
<line x1="148.00" y1="679.00" x2="155.00" y2="679.00" stroke="#ddd" stroke-width="1.3"/>
<line x1="158.50" y1="679.00" x2="165.80" y2="679.00" stroke="#ddd" stroke-width="1.3"/>
<text x="169.50" y="681.40" font-size="7.4" textLength="70.90" lengthAdjust="spacingAndGlyphs" fill="#1a1a1a" stroke="#1a1a1a" stroke-width="0.18">Ranking metric scores</text>
<text x="273.30" y="449.80" font-size="11" fill="#1a1a1a" stroke="#1a1a1a" stroke-width="0.18">C</text>
<path d="M301.20 496.80L364.80 480.20M301.20 632.80L364.80 658.50M301.20 632.80L301.20 496.80M316.87 497.77L383.99 481.82M316.64 631.53L383.60 656.41M316.95 631.50L316.95 497.78M332.05 498.71L402.40 483.37M331.66 630.29L401.75 654.39M332.19 630.25L332.19 498.72M346.76 499.63L420.07 484.86M346.29 629.08L419.29 652.44M346.93 629.03L346.93 499.64M361.02 500.51L437.05 486.29M360.54 627.91L436.25 650.56M361.20 627.85L361.20 500.52M374.86 501.37L453.37 487.67M374.42 626.76L452.65 648.73M375.02 626.71L375.02 501.38M388.29 502.20L469.09 488.99M387.95 625.65L468.53 646.97M388.41 625.61L388.41 502.21M401.33 503.01L484.22 490.27M401.14 624.56L483.90 645.26M401.40 624.54L401.40 503.02M414.00 503.80L498.80 491.50M414.00 623.50L498.80 643.60M414.00 623.50L414.00 503.80M301.20 496.80L414.00 503.80M301.20 632.80L414.00 623.50M414.00 623.50L414.00 503.80M308.66 494.85L424.27 502.31M308.77 635.86L424.35 625.95M424.26 625.93L424.26 502.31M319.74 491.96L439.34 500.12M319.95 640.37L439.50 629.55M439.33 629.50L439.33 500.13M332.05 488.75L455.88 497.73M332.30 645.37L456.08 633.47M455.87 633.42L455.87 497.73M345.82 485.15L474.12 495.08M346.03 650.92L474.28 637.79M474.11 637.75L474.11 495.08M361.33 481.11L494.32 492.15M361.38 657.12L494.36 642.55M494.32 642.54L494.32 492.15M364.80 480.20L498.80 491.50M364.80 658.50L498.80 643.60M498.80 643.60L498.80 491.50M301.20 632.80L414.00 623.50M414.00 623.50L498.80 643.60M301.20 594.21L414.00 589.53M414.00 589.53L498.80 600.44M301.20 555.61L414.00 555.57M414.00 555.57L498.80 557.28M301.20 517.02L414.00 521.60M414.00 521.60L498.80 514.12M301.20 496.80L414.00 503.80M414.00 503.80L498.80 491.50" stroke="#d6d6d6" stroke-width="1.1" fill="none"/>
<line x1="298.20" y1="594.21" x2="301.20" y2="594.21" stroke="#d6d6d6" stroke-width="1.1"/>
<line x1="298.20" y1="555.61" x2="301.20" y2="555.61" stroke="#d6d6d6" stroke-width="1.1"/>
<line x1="298.20" y1="517.02" x2="301.20" y2="517.02" stroke="#d6d6d6" stroke-width="1.1"/>
<defs>
<radialGradient id="gb" cx="0.5" cy="0.42" r="0.58"><stop offset="0" stop-color="#eef5ff"/><stop offset="0.45" stop-color="#78aef2"/><stop offset="0.8" stop-color="#3a6cc4"/><stop offset="1" stop-color="#1a3a80"/></radialGradient>
<radialGradient id="gr" cx="0.5" cy="0.42" r="0.58"><stop offset="0" stop-color="#ffe6ea"/><stop offset="0.45" stop-color="#ea7a90"/><stop offset="0.8" stop-color="#c23a50"/><stop offset="1" stop-color="#7a1020"/></radialGradient>
<radialGradient id="gg" cx="0.5" cy="0.42" r="0.58"><stop offset="0" stop-color="#e6ffe6"/><stop offset="0.45" stop-color="#62d062"/><stop offset="0.8" stop-color="#2e9a34"/><stop offset="1" stop-color="#125e18"/></radialGradient>
</defs>
<circle cx="323.00" cy="448.00" r="5.10" fill="url(#gb)" stroke="#1d3f88" stroke-width="0.6"/>
<text x="331.30" y="451.00" font-size="8.6" textLength="12.50" lengthAdjust="spacingAndGlyphs" fill="#1a1a1a" stroke="#1a1a1a" stroke-width="0.18">ALK</text>
<circle cx="368.00" cy="448.00" r="5.10" fill="url(#gr)" stroke="#7a1424" stroke-width="0.6"/>
<text x="377.00" y="451.00" font-size="8.6" textLength="26.00" lengthAdjust="spacingAndGlyphs" fill="#1a1a1a" stroke="#1a1a1a" stroke-width="0.18">DUSP22</text>
<circle cx="421.30" cy="448.10" r="5.10" fill="url(#gg)" stroke="#155f1b" stroke-width="0.6"/>
<text x="429.90" y="451.00" font-size="8.6" textLength="18.60" lengthAdjust="spacingAndGlyphs" fill="#1a1a1a" stroke="#1a1a1a" stroke-width="0.18">Other</text>
<text x="310.40" y="480.70" font-size="7.6" text-anchor="middle" fill="#1a1a1a" stroke="#1a1a1a" stroke-width="0.18" transform="rotate(-90 310.40 480.70)">0.75</text>
<text x="322.50" y="483.20" font-size="7.6" text-anchor="middle" fill="#1a1a1a" stroke="#1a1a1a" stroke-width="0.18" transform="rotate(-90 322.50 483.20)">1</text>
<text x="334.10" y="475.70" font-size="7.6" text-anchor="middle" fill="#1a1a1a" stroke="#1a1a1a" stroke-width="0.18" transform="rotate(-90 334.10 475.70)">1.25</text>
<text x="348.50" y="473.50" font-size="7.6" text-anchor="middle" fill="#1a1a1a" stroke="#1a1a1a" stroke-width="0.18" transform="rotate(-90 348.50 473.50)">1.5</text>
<text x="364.30" y="467.20" font-size="7.6" text-anchor="middle" fill="#1a1a1a" stroke="#1a1a1a" stroke-width="0.18" transform="rotate(-90 364.30 467.20)">1.75</text>
<text x="371.70" y="470.40" font-size="7.6" text-anchor="middle" fill="#1a1a1a" stroke="#1a1a1a" stroke-width="0.18" transform="rotate(-90 371.70 470.40)">7.5</text>
<text x="389.70" y="473.80" font-size="7.6" text-anchor="middle" fill="#1a1a1a" stroke="#1a1a1a" stroke-width="0.18" transform="rotate(-90 389.70 473.80)">8</text>
<text x="409.20" y="472.20" font-size="7.6" text-anchor="middle" fill="#1a1a1a" stroke="#1a1a1a" stroke-width="0.18" transform="rotate(-90 409.20 472.20)">8.5</text>
<text x="426.00" y="477.10" font-size="7.6" text-anchor="middle" fill="#1a1a1a" stroke="#1a1a1a" stroke-width="0.18" transform="rotate(-90 426.00 477.10)">9</text>
<text x="443.00" y="476.40" font-size="7.6" text-anchor="middle" fill="#1a1a1a" stroke="#1a1a1a" stroke-width="0.18" transform="rotate(-90 443.00 476.40)">9.5</text>
<text x="458.50" y="479.30" font-size="7.6" text-anchor="middle" fill="#1a1a1a" stroke="#1a1a1a" stroke-width="0.18" transform="rotate(-90 458.50 479.30)">10</text>
<text x="473.30" y="477.30" font-size="7.6" text-anchor="middle" fill="#1a1a1a" stroke="#1a1a1a" stroke-width="0.18" transform="rotate(-90 473.30 477.30)">10.5</text>
<text x="487.30" y="484.60" font-size="7.6" text-anchor="middle" fill="#1a1a1a" stroke="#1a1a1a" stroke-width="0.18" transform="rotate(-90 487.30 484.60)">11</text>
<text x="501.60" y="479.90" font-size="7.6" text-anchor="middle" fill="#1a1a1a" stroke="#1a1a1a" stroke-width="0.18" transform="rotate(-90 501.60 479.90)">11.5</text>
<text x="310.20" y="647.30" font-size="7.6" text-anchor="middle" fill="#1a1a1a" stroke="#1a1a1a" stroke-width="0.18" transform="rotate(-90 310.20 647.30)">0.75</text>
<text x="322.30" y="647.80" font-size="7.6" text-anchor="middle" fill="#1a1a1a" stroke="#1a1a1a" stroke-width="0.18" transform="rotate(-90 322.30 647.80)">1</text>
<text x="333.60" y="657.30" font-size="7.6" text-anchor="middle" fill="#1a1a1a" stroke="#1a1a1a" stroke-width="0.18" transform="rotate(-90 333.60 657.30)">1.25</text>
<text x="349.10" y="660.40" font-size="7.6" text-anchor="middle" fill="#1a1a1a" stroke="#1a1a1a" stroke-width="0.18" transform="rotate(-90 349.10 660.40)">1.5</text>
<text x="363.90" y="670.30" font-size="7.6" text-anchor="middle" fill="#1a1a1a" stroke="#1a1a1a" stroke-width="0.18" transform="rotate(-90 363.90 670.30)">1.75</text>
<text x="371.60" y="669.00" font-size="7.6" text-anchor="middle" fill="#1a1a1a" stroke="#1a1a1a" stroke-width="0.18" transform="rotate(-90 371.60 669.00)">7.5</text>
<text x="390.20" y="663.80" font-size="7.6" text-anchor="middle" fill="#1a1a1a" stroke="#1a1a1a" stroke-width="0.18" transform="rotate(-90 390.20 663.80)">8</text>
<text x="409.00" y="665.00" font-size="7.6" text-anchor="middle" fill="#1a1a1a" stroke="#1a1a1a" stroke-width="0.18" transform="rotate(-90 409.00 665.00)">8.5</text>
<text x="425.20" y="660.00" font-size="7.6" text-anchor="middle" fill="#1a1a1a" stroke="#1a1a1a" stroke-width="0.18" transform="rotate(-90 425.20 660.00)">9</text>
<text x="442.70" y="660.50" font-size="7.6" text-anchor="middle" fill="#1a1a1a" stroke="#1a1a1a" stroke-width="0.18" transform="rotate(-90 442.70 660.50)">9.5</text>
<text x="455.20" y="656.80" font-size="7.6" text-anchor="middle" fill="#1a1a1a" stroke="#1a1a1a" stroke-width="0.18" transform="rotate(-90 455.20 656.80)">10</text>
<text x="473.20" y="658.80" font-size="7.6" text-anchor="middle" fill="#1a1a1a" stroke="#1a1a1a" stroke-width="0.18" transform="rotate(-90 473.20 658.80)">10.5</text>
<text x="487.20" y="653.80" font-size="7.6" text-anchor="middle" fill="#1a1a1a" stroke="#1a1a1a" stroke-width="0.18" transform="rotate(-90 487.20 653.80)">11</text>
<text x="501.50" y="655.00" font-size="7.6" text-anchor="middle" fill="#1a1a1a" stroke="#1a1a1a" stroke-width="0.18" transform="rotate(-90 501.50 655.00)">11.5</text>
<text x="296.50" y="519.90" font-size="7.2" text-anchor="end" fill="#1a1a1a" stroke="#1a1a1a" stroke-width="0.18">2</text>
<text x="296.50" y="559.00" font-size="7.2" text-anchor="end" fill="#1a1a1a" stroke="#1a1a1a" stroke-width="0.18">1.5</text>
<text x="296.50" y="597.70" font-size="7.2" text-anchor="end" fill="#1a1a1a" stroke="#1a1a1a" stroke-width="0.18">1</text>
<text x="296.50" y="636.30" font-size="7.2" text-anchor="end" fill="#1a1a1a" stroke="#1a1a1a" stroke-width="0.18">0.5</text>
<text x="503.00" y="517.40" font-size="7.2" fill="#1a1a1a" stroke="#1a1a1a" stroke-width="0.18">2</text>
<text x="503.00" y="558.90" font-size="7.2" fill="#1a1a1a" stroke="#1a1a1a" stroke-width="0.18">1.5</text>
<text x="503.00" y="602.70" font-size="7.2" fill="#1a1a1a" stroke="#1a1a1a" stroke-width="0.18">1</text>
<text x="503.00" y="644.80" font-size="7.2" fill="#1a1a1a" stroke="#1a1a1a" stroke-width="0.18">0.5</text>
<text x="279.6" y="598.3" font-size="9" fill="#1a1a1a" stroke="#1a1a1a" stroke-width="0.18" transform="rotate(-90 279.6 598.3)" textLength="29" lengthAdjust="spacingAndGlyphs">pSTAT3</text>
<text x="275.0" y="569.0" font-size="6.5" fill="#1a1a1a" stroke="#1a1a1a" stroke-width="0.15" transform="rotate(-90 275.0 569.0)" textLength="17" lengthAdjust="spacingAndGlyphs">Y705</text>
<text x="296.0" y="664.5" font-size="9.6" fill="#1a1a1a" stroke="#1a1a1a" stroke-width="0.18" transform="rotate(24 296.0 664.5)" textLength="47" lengthAdjust="spacingAndGlyphs">Total STAT3</text>
<text x="403.5" y="684.6" font-size="9.8" fill="#1a1a1a" stroke="#1a1a1a" stroke-width="0.18" transform="rotate(-6.5 403.5 684.6)" textLength="92" lengthAdjust="spacingAndGlyphs">STAT3 gene expression</text>
<circle cx="430.10" cy="511.90" r="4.50" fill="url(#gb)" stroke="#1d3f88" stroke-width="0.6"/>
<circle cx="452.70" cy="532.20" r="4.70" fill="url(#gb)" stroke="#1d3f88" stroke-width="0.6"/>
<circle cx="449.70" cy="547.20" r="4.70" fill="url(#gg)" stroke="#155f1b" stroke-width="0.6"/>
<circle cx="413.50" cy="569.20" r="4.70" fill="url(#gb)" stroke="#1d3f88" stroke-width="0.6"/>
<circle cx="415.10" cy="571.10" r="4.70" fill="url(#gb)" stroke="#1d3f88" stroke-width="0.6"/>
<circle cx="433.10" cy="570.40" r="4.70" fill="url(#gb)" stroke="#1d3f88" stroke-width="0.6"/>
<circle cx="438.90" cy="574.30" r="5.70" fill="url(#gg)" stroke="#155f1b" stroke-width="0.6"/>
<circle cx="430.30" cy="578.00" r="4.50" fill="url(#gb)" stroke="#1d3f88" stroke-width="0.6"/>
<circle cx="468.20" cy="581.90" r="5.10" fill="url(#gg)" stroke="#155f1b" stroke-width="0.6"/>
<circle cx="408.20" cy="583.50" r="4.50" fill="url(#gb)" stroke="#1d3f88" stroke-width="0.6"/>
<circle cx="404.20" cy="592.30" r="4.30" fill="url(#gg)" stroke="#155f1b" stroke-width="0.6"/>
<circle cx="414.60" cy="613.10" r="4.70" fill="url(#gb)" stroke="#1d3f88" stroke-width="0.6"/>
<circle cx="415.80" cy="621.20" r="4.50" fill="url(#gg)" stroke="#155f1b" stroke-width="0.6"/>
<circle cx="447.40" cy="618.80" r="4.70" fill="url(#gg)" stroke="#155f1b" stroke-width="0.6"/>
<circle cx="362.00" cy="622.80" r="4.30" fill="url(#gr)" stroke="#7a1424" stroke-width="0.6"/>
<circle cx="348.90" cy="623.40" r="4.50" fill="url(#gg)" stroke="#155f1b" stroke-width="0.6"/>
<circle cx="340.80" cy="627.40" r="4.50" fill="url(#gr)" stroke="#7a1424" stroke-width="0.6"/>
<circle cx="321.30" cy="626.90" r="4.70" fill="url(#gg)" stroke="#155f1b" stroke-width="0.6"/>
<circle cx="328.70" cy="634.10" r="4.90" fill="url(#gr)" stroke="#7a1424" stroke-width="0.6"/>
<rect x="310.9" y="591.6" width="55.5" height="19.2" fill="#fff" stroke="#333" stroke-width="1"/>
<text x="325.20" y="603.80" font-size="7.4" textLength="27.60" lengthAdjust="spacingAndGlyphs" fill="#1a1a1a" stroke="#1a1a1a" stroke-width="0.18">Cluster 1</text>
<rect x="406.2" y="628.6" width="56.4" height="19.2" fill="#fff" stroke="#333" stroke-width="1"/>
<text x="422.90" y="641.50" font-size="7.4" textLength="28.20" lengthAdjust="spacingAndGlyphs" fill="#1a1a1a" stroke="#1a1a1a" stroke-width="0.18">Cluster 2</text></svg></body></html>
